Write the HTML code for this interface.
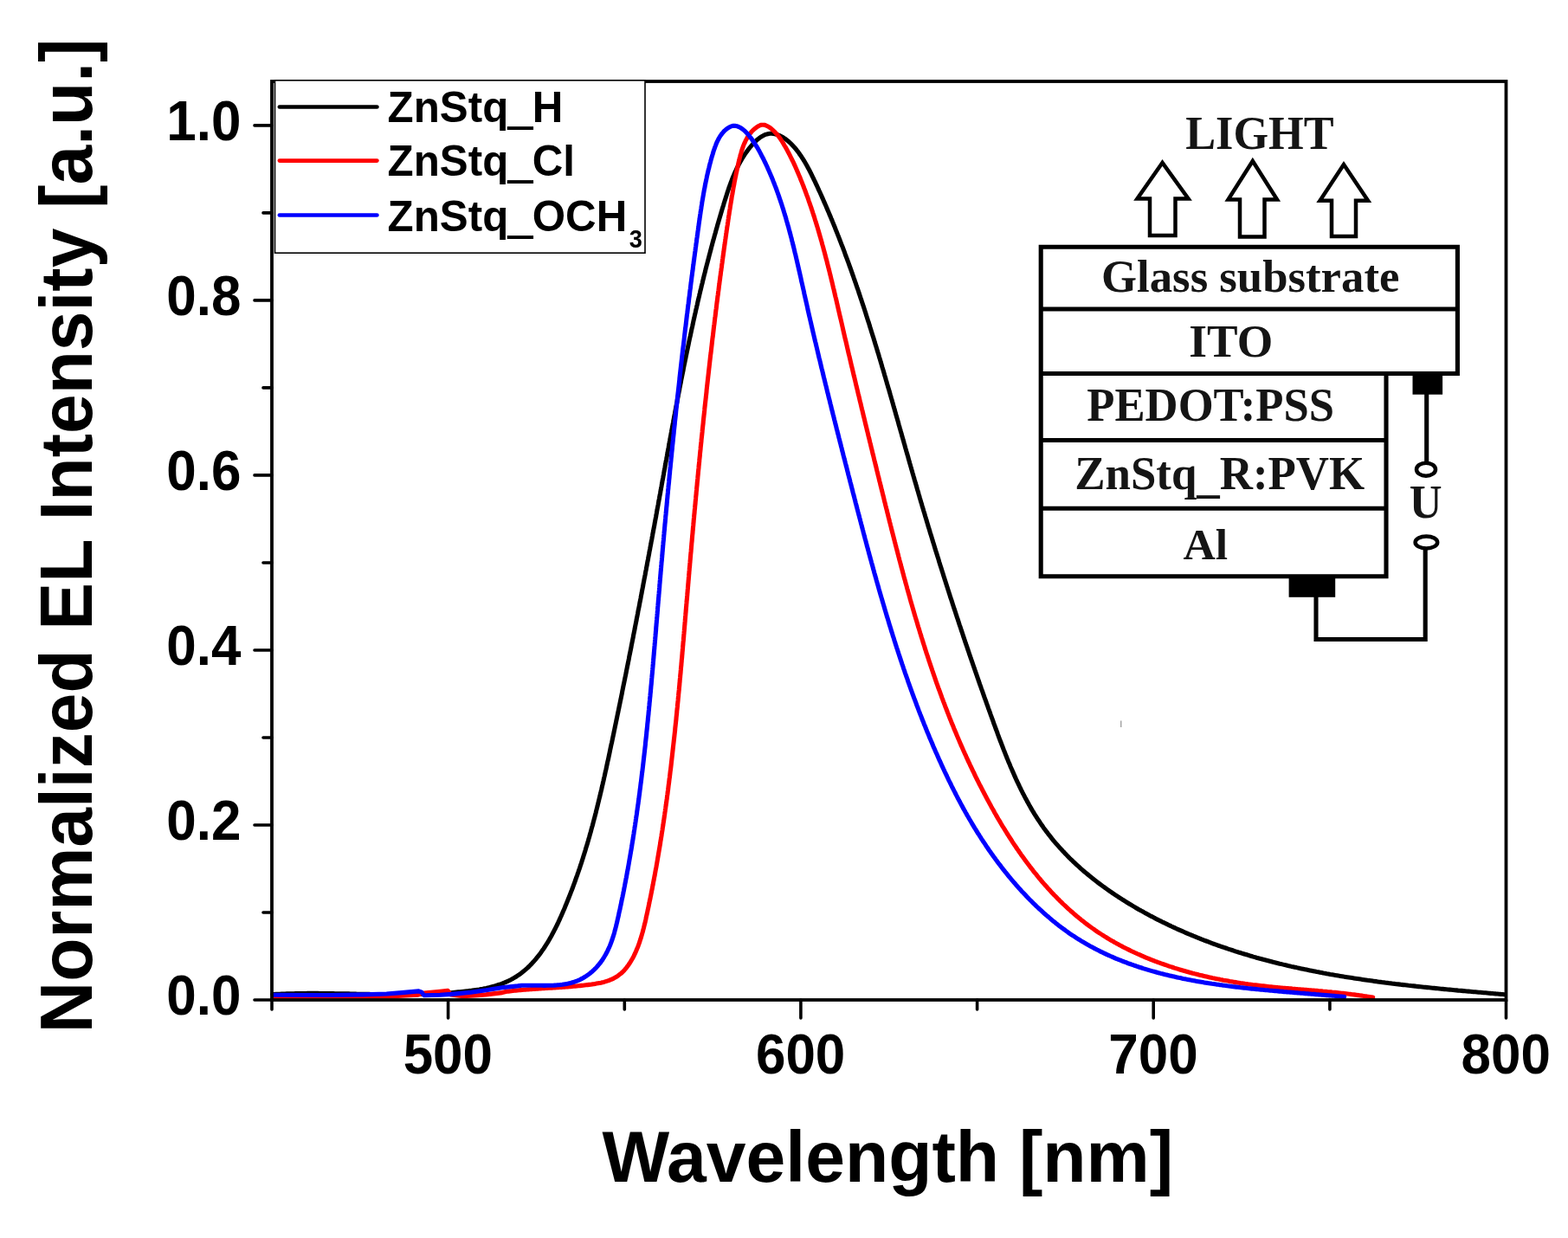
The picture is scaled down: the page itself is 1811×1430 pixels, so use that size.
<!DOCTYPE html>
<html><head><meta charset="utf-8"><style>
html,body{margin:0;padding:0;background:#fff;}
body{width:1811px;height:1430px;overflow:hidden;position:relative;}
svg{position:absolute;left:0;top:0;}
.sans{font-family:"Liberation Sans",Arial,sans-serif;font-weight:bold;fill:#000;}
.serif{font-family:"Liberation Serif","Times New Roman",serif;font-weight:bold;fill:#151515;}
</style></head><body>
<svg width="1811" height="1430" viewBox="0 0 1811 1430">
<rect width="1811" height="1430" fill="#fff"/>
<g fill="none" stroke-width="5.1" stroke-linejoin="round" stroke-linecap="round">
<path d="M314.9,1148.6 L317.0,1148.5 L319.0,1148.4 L321.0,1148.3 L323.1,1148.2 L325.1,1148.1 L327.1,1148.0 L329.2,1148.0 L331.2,1147.9 L333.2,1147.8 L335.2,1147.8 L337.2,1147.7 L339.3,1147.7 L341.3,1147.6 L343.3,1147.6 L345.3,1147.6 L347.3,1147.5 L349.3,1147.5 L351.3,1147.5 L353.3,1147.5 L355.3,1147.4 L357.3,1147.4 L359.3,1147.4 L361.3,1147.4 L363.3,1147.4 L365.2,1147.4 L367.2,1147.4 L369.2,1147.5 L371.2,1147.5 L373.2,1147.5 L375.2,1147.5 L377.1,1147.5 L379.1,1147.5 L381.1,1147.6 L383.1,1147.6 L385.0,1147.6 L387.0,1147.7 L389.0,1147.7 L391.0,1147.7 L392.9,1147.8 L394.9,1147.8 L396.9,1147.8 L398.8,1147.9 L400.8,1147.9 L402.8,1147.9 L404.7,1148.0 L406.7,1148.0 L408.6,1148.1 L410.6,1148.1 L412.6,1148.2 L414.5,1148.2 L416.5,1148.2 L418.5,1148.3 L420.4,1148.3 L422.4,1148.4 L424.3,1148.4 L426.3,1148.4 L428.3,1148.5 L430.2,1148.5 L432.2,1148.5 L434.1,1148.6 L436.1,1148.6 L438.1,1148.6 L440.0,1148.7 L442.0,1148.7 L444.0,1148.7 L445.9,1148.7 L447.9,1148.8 L449.8,1148.8 L451.8,1148.8 L453.8,1148.8 L455.7,1148.8 L457.7,1148.8 L459.7,1148.8 L461.6,1148.8 L463.6,1148.8 L465.6,1148.8 L467.5,1148.8 L469.5,1148.8 L471.5,1148.8 L473.5,1148.7 L475.4,1148.7 L477.4,1148.7 L479.4,1148.7 L481.4,1148.6 L483.3,1148.6 L485.3,1148.5 L487.3,1148.5 L489.3,1148.4 L491.3,1148.3 L493.3,1148.3 L495.2,1148.2 L497.2,1148.1 L499.2,1148.0 L501.2,1147.9 L503.2,1147.8 L505.2,1147.7 L507.2,1147.6 L509.2,1147.5 L511.2,1147.4 L513.2,1147.3 L515.2,1147.1 L517.2,1147.0 L519.2,1146.8 L521.3,1146.7 L523.3,1146.5 L525.3,1146.3 L527.3,1146.1 L529.3,1145.9 L531.4,1145.8 L533.4,1145.5 L535.4,1145.3 L537.4,1145.1 L539.5,1144.9 L541.5,1144.6 L543.5,1144.4 L545.6,1144.1 L547.6,1143.8 L549.6,1143.5 L551.6,1143.2 L553.6,1142.9 L555.6,1142.5 L557.6,1142.2 L559.6,1141.8 L561.6,1141.4 L563.6,1140.9 L565.5,1140.5 L567.5,1140.0 L569.4,1139.5 L571.3,1139.0 L573.2,1138.4 L575.1,1137.8 L576.9,1137.2 L578.8,1136.6 L580.6,1135.9 L582.4,1135.2 L584.2,1134.4 L585.9,1133.7 L587.7,1132.8 L589.4,1132.0 L591.0,1131.1 L592.7,1130.2 L594.3,1129.2 L595.9,1128.3 L597.5,1127.2 L599.1,1126.2 L600.6,1125.1 L602.1,1124.0 L603.6,1122.8 L605.1,1121.6 L606.5,1120.4 L608.0,1119.1 L609.4,1117.9 L610.7,1116.6 L612.1,1115.2 L613.4,1113.9 L614.7,1112.5 L616.0,1111.1 L617.3,1109.6 L618.6,1108.2 L619.8,1106.7 L621.0,1105.2 L622.2,1103.6 L623.4,1102.1 L624.6,1100.5 L625.7,1098.9 L626.8,1097.3 L628.0,1095.7 L629.1,1094.0 L630.1,1092.3 L631.2,1090.6 L632.3,1088.9 L633.3,1087.2 L634.3,1085.5 L635.3,1083.7 L636.3,1082.0 L637.3,1080.2 L638.2,1078.4 L639.2,1076.6 L640.1,1074.8 L641.1,1073.0 L642.0,1071.2 L642.9,1069.3 L643.8,1067.5 L644.7,1065.6 L645.5,1063.8 L646.4,1061.9 L647.2,1060.0 L648.1,1058.1 L648.9,1056.3 L649.7,1054.4 L650.5,1052.5 L651.4,1050.6 L652.2,1048.7 L652.9,1046.8 L653.7,1044.9 L654.5,1043.0 L655.3,1041.1 L656.0,1039.2 L656.8,1037.4 L657.5,1035.5 L658.3,1033.6 L659.0,1031.7 L659.7,1029.8 L660.5,1027.9 L661.2,1026.0 L661.9,1024.1 L662.6,1022.2 L663.3,1020.3 L664.0,1018.4 L664.7,1016.5 L665.3,1014.6 L666.0,1012.7 L666.7,1010.8 L667.3,1008.9 L668.0,1007.1 L668.6,1005.2 L669.3,1003.3 L669.9,1001.4 L670.5,999.5 L671.2,997.6 L671.8,995.7 L672.4,993.8 L673.0,991.9 L673.6,990.0 L674.2,988.1 L674.8,986.2 L675.4,984.3 L676.0,982.4 L676.5,980.5 L677.1,978.6 L677.7,976.7 L678.3,974.8 L678.8,972.9 L679.4,971.0 L679.9,969.1 L680.5,967.2 L681.0,965.3 L681.5,963.4 L682.1,961.5 L682.6,959.6 L683.1,957.7 L683.6,955.8 L684.2,953.9 L684.7,952.0 L685.2,950.0 L685.7,948.1 L686.2,946.2 L686.7,944.3 L687.2,942.4 L687.7,940.5 L688.2,938.6 L688.6,936.7 L689.1,934.8 L689.6,932.9 L690.1,931.0 L690.5,929.1 L691.0,927.2 L691.5,925.2 L691.9,923.3 L692.4,921.4 L692.9,919.5 L693.3,917.6 L693.8,915.7 L694.2,913.8 L694.7,911.9 L695.1,910.0 L695.5,908.0 L696.0,906.1 L696.4,904.2 L696.9,902.3 L697.3,900.4 L697.7,898.5 L698.2,896.5 L698.6,894.6 L699.0,892.7 L699.4,890.8 L699.9,888.9 L700.3,887.0 L700.7,885.0 L701.1,883.1 L701.5,881.2 L701.9,879.3 L702.4,877.4 L702.8,875.4 L703.2,873.5 L703.6,871.6 L704.0,869.7 L704.4,867.7 L704.8,865.8 L705.2,863.9 L705.6,862.0 L706.0,860.0 L706.5,858.1 L706.9,856.2 L707.3,854.3 L707.7,852.3 L708.1,850.4 L708.5,848.5 L708.9,846.6 L709.3,844.6 L709.7,842.7 L710.1,840.8 L710.5,838.8 L710.9,836.9 L711.3,835.0 L711.7,833.0 L712.1,831.1 L712.5,829.2 L712.9,827.2 L713.3,825.3 L713.7,823.4 L714.1,821.4 L714.5,819.5 L714.9,817.6 L715.3,815.6 L715.7,813.7 L716.1,811.7 L716.5,809.8 L716.9,807.9 L717.3,805.9 L717.7,804.0 L718.1,802.0 L718.5,800.1 L718.8,798.2 L719.2,796.2 L719.6,794.3 L720.0,792.3 L720.4,790.4 L720.8,788.5 L721.2,786.5 L721.6,784.6 L722.0,782.6 L722.4,780.7 L722.8,778.7 L723.2,776.8 L723.5,774.9 L723.9,772.9 L724.3,771.0 L724.7,769.0 L725.1,767.1 L725.5,765.1 L725.9,763.2 L726.3,761.2 L726.6,759.3 L727.0,757.3 L727.4,755.4 L727.8,753.4 L728.2,751.5 L728.6,749.5 L729.0,747.6 L729.3,745.6 L729.7,743.7 L730.1,741.7 L730.5,739.8 L730.9,737.8 L731.3,735.9 L731.6,733.9 L732.0,732.0 L732.4,730.0 L732.8,728.1 L733.2,726.1 L733.5,724.2 L733.9,722.2 L734.3,720.3 L734.7,718.3 L735.1,716.4 L735.4,714.4 L735.8,712.5 L736.2,710.5 L736.6,708.5 L736.9,706.6 L737.3,704.6 L737.7,702.7 L738.1,700.7 L738.5,698.8 L738.8,696.8 L739.2,694.9 L739.6,692.9 L740.0,690.9 L740.3,689.0 L740.7,687.0 L741.1,685.1 L741.4,683.1 L741.8,681.2 L742.2,679.2 L742.6,677.3 L742.9,675.3 L743.3,673.3 L743.7,671.4 L744.0,669.4 L744.4,667.5 L744.8,665.5 L745.2,663.5 L745.5,661.6 L745.9,659.6 L746.3,657.7 L746.6,655.7 L747.0,653.8 L747.4,651.8 L747.7,649.8 L748.1,647.9 L748.5,645.9 L748.8,644.0 L749.2,642.0 L749.6,640.0 L749.9,638.1 L750.3,636.1 L750.7,634.2 L751.0,632.2 L751.4,630.3 L751.8,628.3 L752.1,626.3 L752.5,624.4 L752.9,622.4 L753.2,620.5 L753.6,618.5 L753.9,616.5 L754.3,614.6 L754.7,612.6 L755.0,610.7 L755.4,608.7 L755.8,606.8 L756.1,604.8 L756.5,602.8 L756.8,600.9 L757.2,598.9 L757.6,597.0 L757.9,595.0 L758.3,593.0 L758.6,591.1 L759.0,589.1 L759.3,587.2 L759.7,585.2 L760.1,583.2 L760.4,581.3 L760.8,579.3 L761.1,577.4 L761.5,575.4 L761.8,573.5 L762.2,571.5 L762.6,569.5 L762.9,567.6 L763.3,565.6 L763.6,563.7 L764.0,561.7 L764.3,559.8 L764.7,557.8 L765.0,555.8 L765.4,553.9 L765.8,551.9 L766.1,550.0 L766.5,548.0 L766.8,546.1 L767.2,544.1 L767.5,542.2 L767.9,540.2 L768.2,538.2 L768.6,536.3 L768.9,534.3 L769.3,532.4 L769.7,530.4 L770.0,528.5 L770.4,526.5 L770.7,524.6 L771.1,522.6 L771.4,520.7 L771.8,518.7 L772.2,516.7 L772.5,514.8 L772.9,512.8 L773.2,510.9 L773.6,508.9 L773.9,507.0 L774.3,505.0 L774.7,503.1 L775.0,501.1 L775.4,499.2 L775.7,497.2 L776.1,495.3 L776.5,493.3 L776.8,491.4 L777.2,489.4 L777.6,487.5 L777.9,485.5 L778.3,483.6 L778.6,481.6 L779.0,479.7 L779.4,477.7 L779.7,475.8 L780.1,473.8 L780.5,471.9 L780.8,469.9 L781.2,468.0 L781.6,466.0 L782.0,464.1 L782.3,462.1 L782.7,460.2 L783.1,458.3 L783.4,456.3 L783.8,454.4 L784.2,452.4 L784.6,450.5 L784.9,448.5 L785.3,446.6 L785.7,444.6 L786.1,442.7 L786.5,440.7 L786.8,438.8 L787.2,436.9 L787.6,434.9 L788.0,433.0 L788.4,431.0 L788.8,429.1 L789.2,427.2 L789.5,425.2 L789.9,423.3 L790.3,421.3 L790.7,419.4 L791.1,417.5 L791.5,415.5 L791.9,413.6 L792.3,411.6 L792.7,409.7 L793.1,407.8 L793.5,405.8 L793.9,403.9 L794.3,402.0 L794.7,400.0 L795.1,398.1 L795.5,396.1 L795.9,394.2 L796.3,392.3 L796.7,390.3 L797.2,388.4 L797.6,386.5 L798.0,384.5 L798.4,382.6 L798.8,380.7 L799.2,378.8 L799.7,376.8 L800.1,374.9 L800.5,373.0 L800.9,371.0 L801.3,369.1 L801.8,367.2 L802.2,365.2 L802.6,363.3 L803.1,361.4 L803.5,359.5 L803.9,357.5 L804.4,355.6 L804.8,353.7 L805.3,351.8 L805.7,349.8 L806.1,347.9 L806.6,346.0 L807.0,344.1 L807.5,342.1 L807.9,340.2 L808.4,338.3 L808.8,336.4 L809.3,334.5 L809.8,332.5 L810.2,330.6 L810.7,328.7 L811.2,326.8 L811.6,324.9 L812.1,322.9 L812.6,321.0 L813.0,319.1 L813.5,317.2 L814.0,315.3 L814.5,313.4 L814.9,311.4 L815.4,309.5 L815.9,307.6 L816.4,305.7 L816.9,303.8 L817.4,301.9 L817.9,300.0 L818.4,298.1 L818.9,296.1 L819.4,294.2 L819.9,292.3 L820.4,290.4 L820.9,288.5 L821.4,286.6 L821.9,284.7 L822.4,282.8 L822.9,280.9 L823.4,279.0 L824.0,277.1 L824.5,275.2 L825.0,273.3 L825.5,271.4 L826.1,269.5 L826.6,267.6 L827.1,265.7 L827.7,263.8 L828.2,261.9 L828.7,260.0 L829.3,258.1 L829.8,256.2 L830.4,254.3 L830.9,252.4 L831.5,250.5 L832.1,248.6 L832.6,246.7 L833.2,244.8 L833.7,242.9 L834.3,241.0 L834.9,239.1 L835.5,237.2 L836.0,235.3 L836.6,233.5 L837.2,231.6 L837.8,229.7 L838.4,227.8 L839.0,225.9 L839.6,224.0 L840.2,222.1 L840.8,220.3 L841.4,218.4 L842.1,216.5 L842.7,214.7 L843.4,212.8 L844.1,210.9 L844.8,209.1 L845.5,207.2 L846.2,205.4 L847.0,203.6 L847.7,201.8 L848.5,199.9 L849.3,198.1 L850.2,196.3 L851.0,194.5 L851.9,192.7 L852.8,191.0 L853.7,189.2 L854.7,187.4 L855.7,185.7 L856.7,183.9 L857.8,182.2 L858.8,180.5 L859.9,178.8 L861.1,177.1 L862.3,175.4 L863.5,173.8 L864.7,172.1 L866.0,170.5 L867.4,168.8 L868.7,167.3 L870.1,165.7 L871.6,164.2 L873.0,162.8 L874.5,161.4 L876.1,160.2 L877.6,159.0 L879.2,157.9 L880.9,157.0 L882.5,156.1 L884.2,155.4 L885.9,154.9 L887.7,154.5 L889.4,154.3 L891.2,154.3 L893.0,154.4 L894.9,154.7 L896.7,155.2 L898.5,155.8 L900.4,156.6 L902.2,157.5 L904.0,158.5 L905.7,159.6 L907.4,160.7 L909.0,162.0 L910.6,163.3 L912.1,164.6 L913.6,166.0 L915.0,167.5 L916.4,169.0 L917.8,170.5 L919.1,172.0 L920.3,173.6 L921.6,175.2 L922.8,176.8 L923.9,178.5 L925.1,180.1 L926.2,181.8 L927.2,183.4 L928.3,185.1 L929.3,186.8 L930.3,188.5 L931.3,190.2 L932.3,192.0 L933.2,193.7 L934.2,195.5 L935.1,197.2 L936.0,199.0 L936.9,200.7 L937.7,202.5 L938.6,204.3 L939.5,206.1 L940.3,207.9 L941.2,209.7 L942.0,211.4 L942.8,213.2 L943.7,215.0 L944.5,216.8 L945.3,218.6 L946.1,220.4 L947.0,222.2 L947.8,224.0 L948.6,225.8 L949.4,227.6 L950.2,229.4 L951.0,231.3 L951.8,233.1 L952.6,234.9 L953.4,236.7 L954.2,238.5 L954.9,240.3 L955.7,242.1 L956.5,244.0 L957.3,245.8 L958.0,247.6 L958.8,249.4 L959.6,251.3 L960.3,253.1 L961.1,254.9 L961.8,256.7 L962.6,258.6 L963.3,260.4 L964.1,262.2 L964.8,264.1 L965.5,265.9 L966.3,267.8 L967.0,269.6 L967.7,271.4 L968.5,273.3 L969.2,275.1 L969.9,277.0 L970.6,278.8 L971.3,280.7 L972.0,282.5 L972.8,284.4 L973.5,286.2 L974.2,288.1 L974.9,289.9 L975.6,291.8 L976.2,293.6 L976.9,295.5 L977.6,297.3 L978.3,299.2 L979.0,301.1 L979.7,302.9 L980.4,304.8 L981.0,306.7 L981.7,308.5 L982.4,310.4 L983.0,312.2 L983.7,314.1 L984.4,316.0 L985.0,317.9 L985.7,319.7 L986.3,321.6 L987.0,323.5 L987.6,325.3 L988.3,327.2 L988.9,329.1 L989.6,331.0 L990.2,332.9 L990.9,334.7 L991.5,336.6 L992.1,338.5 L992.8,340.4 L993.4,342.3 L994.0,344.1 L994.7,346.0 L995.3,347.9 L995.9,349.8 L996.5,351.7 L997.2,353.6 L997.8,355.5 L998.4,357.3 L999.0,359.2 L999.6,361.1 L1000.2,363.0 L1000.8,364.9 L1001.4,366.8 L1002.0,368.7 L1002.6,370.6 L1003.3,372.5 L1003.9,374.4 L1004.4,376.3 L1005.0,378.2 L1005.6,380.1 L1006.2,382.0 L1006.8,383.9 L1007.4,385.8 L1008.0,387.7 L1008.6,389.6 L1009.2,391.5 L1009.8,393.4 L1010.3,395.3 L1010.9,397.2 L1011.5,399.1 L1012.1,401.0 L1012.7,402.9 L1013.2,404.8 L1013.8,406.7 L1014.4,408.6 L1015.0,410.5 L1015.5,412.4 L1016.1,414.3 L1016.7,416.2 L1017.2,418.1 L1017.8,420.1 L1018.4,422.0 L1018.9,423.9 L1019.5,425.8 L1020.1,427.7 L1020.6,429.6 L1021.2,431.5 L1021.7,433.4 L1022.3,435.3 L1022.9,437.3 L1023.4,439.2 L1024.0,441.1 L1024.5,443.0 L1025.1,444.9 L1025.6,446.8 L1026.2,448.7 L1026.8,450.6 L1027.3,452.6 L1027.9,454.5 L1028.4,456.4 L1029.0,458.3 L1029.5,460.2 L1030.1,462.1 L1030.6,464.0 L1031.2,466.0 L1031.7,467.9 L1032.2,469.8 L1032.8,471.7 L1033.3,473.6 L1033.9,475.5 L1034.4,477.5 L1035.0,479.4 L1035.5,481.3 L1036.1,483.2 L1036.6,485.1 L1037.2,487.0 L1037.7,488.9 L1038.2,490.9 L1038.8,492.8 L1039.3,494.7 L1039.9,496.6 L1040.4,498.5 L1041.0,500.4 L1041.5,502.4 L1042.0,504.3 L1042.6,506.2 L1043.1,508.1 L1043.7,510.0 L1044.2,511.9 L1044.8,513.8 L1045.3,515.8 L1045.8,517.7 L1046.4,519.6 L1046.9,521.5 L1047.5,523.4 L1048.0,525.3 L1048.6,527.2 L1049.1,529.2 L1049.6,531.1 L1050.2,533.0 L1050.7,534.9 L1051.3,536.8 L1051.8,538.7 L1052.4,540.6 L1052.9,542.5 L1053.5,544.5 L1054.0,546.4 L1054.6,548.3 L1055.1,550.2 L1055.7,552.1 L1056.2,554.0 L1056.8,555.9 L1057.3,557.8 L1057.9,559.7 L1058.4,561.6 L1059.0,563.5 L1059.5,565.4 L1060.1,567.3 L1060.7,569.3 L1061.2,571.2 L1061.8,573.1 L1062.3,575.0 L1062.9,576.9 L1063.4,578.8 L1064.0,580.7 L1064.6,582.6 L1065.1,584.5 L1065.7,586.4 L1066.3,588.3 L1066.8,590.2 L1067.4,592.1 L1068.0,594.0 L1068.5,595.9 L1069.1,597.8 L1069.7,599.7 L1070.2,601.6 L1070.8,603.5 L1071.4,605.4 L1071.9,607.3 L1072.5,609.2 L1073.1,611.1 L1073.7,613.0 L1074.2,614.8 L1074.8,616.7 L1075.4,618.6 L1076.0,620.5 L1076.6,622.4 L1077.1,624.3 L1077.7,626.2 L1078.3,628.1 L1078.9,630.0 L1079.5,631.9 L1080.0,633.8 L1080.6,635.7 L1081.2,637.6 L1081.8,639.4 L1082.4,641.3 L1083.0,643.2 L1083.6,645.1 L1084.2,647.0 L1084.7,648.9 L1085.3,650.8 L1085.9,652.7 L1086.5,654.6 L1087.1,656.4 L1087.7,658.3 L1088.3,660.2 L1088.9,662.1 L1089.5,664.0 L1090.1,665.9 L1090.7,667.8 L1091.3,669.7 L1091.9,671.5 L1092.5,673.4 L1093.1,675.3 L1093.7,677.2 L1094.3,679.1 L1094.9,681.0 L1095.5,682.8 L1096.1,684.7 L1096.7,686.6 L1097.3,688.5 L1097.9,690.4 L1098.6,692.3 L1099.2,694.1 L1099.8,696.0 L1100.4,697.9 L1101.0,699.8 L1101.6,701.7 L1102.2,703.5 L1102.9,705.4 L1103.5,707.3 L1104.1,709.2 L1104.7,711.1 L1105.3,712.9 L1106.0,714.8 L1106.6,716.7 L1107.2,718.6 L1107.8,720.5 L1108.4,722.3 L1109.1,724.2 L1109.7,726.1 L1110.3,728.0 L1111.0,729.9 L1111.6,731.7 L1112.2,733.6 L1112.8,735.5 L1113.5,737.4 L1114.1,739.3 L1114.7,741.1 L1115.4,743.0 L1116.0,744.9 L1116.7,746.8 L1117.3,748.6 L1117.9,750.5 L1118.6,752.4 L1119.2,754.3 L1119.8,756.2 L1120.5,758.0 L1121.1,759.9 L1121.8,761.8 L1122.4,763.7 L1123.1,765.5 L1123.7,767.4 L1124.4,769.3 L1125.0,771.2 L1125.7,773.0 L1126.3,774.9 L1127.0,776.8 L1127.6,778.7 L1128.3,780.5 L1128.9,782.4 L1129.6,784.3 L1130.2,786.2 L1130.9,788.1 L1131.5,789.9 L1132.2,791.8 L1132.9,793.7 L1133.5,795.6 L1134.2,797.4 L1134.9,799.3 L1135.5,801.2 L1136.2,803.1 L1136.8,804.9 L1137.5,806.8 L1138.2,808.7 L1138.9,810.6 L1139.5,812.4 L1140.2,814.3 L1140.9,816.2 L1141.5,818.1 L1142.2,819.9 L1142.9,821.8 L1143.6,823.7 L1144.2,825.6 L1144.9,827.4 L1145.6,829.3 L1146.3,831.2 L1147.0,833.1 L1147.6,835.0 L1148.3,836.8 L1149.0,838.7 L1149.7,840.6 L1150.4,842.5 L1151.1,844.3 L1151.8,846.2 L1152.4,848.1 L1153.1,849.9 L1153.8,851.8 L1154.5,853.7 L1155.2,855.6 L1156.0,857.4 L1156.7,859.3 L1157.4,861.2 L1158.1,863.0 L1158.8,864.9 L1159.5,866.7 L1160.3,868.6 L1161.0,870.4 L1161.7,872.3 L1162.5,874.1 L1163.2,876.0 L1164.0,877.8 L1164.7,879.7 L1165.5,881.5 L1166.3,883.3 L1167.0,885.2 L1167.8,887.0 L1168.6,888.8 L1169.4,890.6 L1170.2,892.4 L1171.0,894.3 L1171.8,896.1 L1172.6,897.9 L1173.4,899.7 L1174.2,901.5 L1175.1,903.3 L1175.9,905.0 L1176.8,906.8 L1177.6,908.6 L1178.5,910.4 L1179.3,912.1 L1180.2,913.9 L1181.1,915.7 L1182.0,917.4 L1182.9,919.1 L1183.8,920.9 L1184.7,922.6 L1185.7,924.3 L1186.6,926.1 L1187.6,927.8 L1188.5,929.5 L1189.5,931.2 L1190.4,932.9 L1191.4,934.6 L1192.4,936.3 L1193.4,937.9 L1194.4,939.6 L1195.5,941.3 L1196.5,942.9 L1197.6,944.6 L1198.6,946.2 L1199.7,947.8 L1200.8,949.4 L1201.9,951.1 L1203.0,952.7 L1204.1,954.3 L1205.2,955.9 L1206.3,957.4 L1207.5,959.0 L1208.7,960.6 L1209.8,962.1 L1211.0,963.7 L1212.2,965.2 L1213.4,966.7 L1214.7,968.3 L1215.9,969.8 L1217.1,971.3 L1218.4,972.8 L1219.7,974.3 L1220.9,975.7 L1222.2,977.2 L1223.5,978.7 L1224.9,980.1 L1226.2,981.6 L1227.5,983.0 L1228.9,984.4 L1230.2,985.9 L1231.6,987.3 L1233.0,988.7 L1234.3,990.1 L1235.7,991.5 L1237.1,992.8 L1238.6,994.2 L1240.0,995.6 L1241.4,996.9 L1242.9,998.3 L1244.3,999.6 L1245.8,1000.9 L1247.3,1002.3 L1248.7,1003.6 L1250.2,1004.9 L1251.7,1006.2 L1253.2,1007.5 L1254.8,1008.7 L1256.3,1010.0 L1257.8,1011.3 L1259.3,1012.5 L1260.9,1013.8 L1262.4,1015.0 L1264.0,1016.3 L1265.6,1017.5 L1267.2,1018.7 L1268.7,1019.9 L1270.3,1021.1 L1271.9,1022.3 L1273.5,1023.5 L1275.2,1024.7 L1276.8,1025.8 L1278.4,1027.0 L1280.0,1028.1 L1281.7,1029.3 L1283.3,1030.4 L1285.0,1031.6 L1286.6,1032.7 L1288.3,1033.8 L1290.0,1034.9 L1291.6,1036.0 L1293.3,1037.1 L1295.0,1038.2 L1296.7,1039.3 L1298.4,1040.3 L1300.1,1041.4 L1301.8,1042.5 L1303.5,1043.5 L1305.2,1044.6 L1307.0,1045.6 L1308.7,1046.6 L1310.4,1047.6 L1312.2,1048.7 L1313.9,1049.7 L1315.6,1050.7 L1317.4,1051.6 L1319.1,1052.6 L1320.9,1053.6 L1322.6,1054.6 L1324.4,1055.5 L1326.2,1056.5 L1327.9,1057.4 L1329.7,1058.4 L1331.5,1059.3 L1333.3,1060.2 L1335.0,1061.2 L1336.8,1062.1 L1338.6,1063.0 L1340.4,1063.9 L1342.2,1064.8 L1344.0,1065.6 L1345.8,1066.5 L1347.6,1067.4 L1349.4,1068.3 L1351.2,1069.1 L1353.0,1070.0 L1354.8,1070.8 L1356.6,1071.6 L1358.4,1072.5 L1360.2,1073.3 L1362.0,1074.1 L1363.8,1074.9 L1365.6,1075.7 L1367.5,1076.5 L1369.3,1077.3 L1371.1,1078.1 L1372.9,1078.9 L1374.8,1079.6 L1376.6,1080.4 L1378.4,1081.2 L1380.3,1081.9 L1382.1,1082.7 L1383.9,1083.4 L1385.8,1084.1 L1387.6,1084.9 L1389.5,1085.6 L1391.3,1086.3 L1393.2,1087.0 L1395.0,1087.7 L1396.9,1088.4 L1398.7,1089.1 L1400.6,1089.8 L1402.4,1090.5 L1404.3,1091.1 L1406.2,1091.8 L1408.0,1092.5 L1409.9,1093.1 L1411.7,1093.8 L1413.6,1094.4 L1415.5,1095.0 L1417.4,1095.7 L1419.2,1096.3 L1421.1,1096.9 L1423.0,1097.5 L1424.9,1098.2 L1426.7,1098.8 L1428.6,1099.4 L1430.5,1100.0 L1432.4,1100.5 L1434.3,1101.1 L1436.2,1101.7 L1438.1,1102.3 L1440.0,1102.8 L1441.9,1103.4 L1443.7,1104.0 L1445.6,1104.5 L1447.5,1105.1 L1449.4,1105.6 L1451.3,1106.2 L1453.2,1106.7 L1455.1,1107.2 L1457.1,1107.7 L1459.0,1108.3 L1460.9,1108.8 L1462.8,1109.3 L1464.7,1109.8 L1466.6,1110.3 L1468.5,1110.8 L1470.4,1111.3 L1472.3,1111.7 L1474.3,1112.2 L1476.2,1112.7 L1478.1,1113.2 L1480.0,1113.6 L1482.0,1114.1 L1483.9,1114.6 L1485.8,1115.0 L1487.7,1115.5 L1489.7,1115.9 L1491.6,1116.4 L1493.5,1116.8 L1495.4,1117.2 L1497.4,1117.6 L1499.3,1118.1 L1501.2,1118.5 L1503.2,1118.9 L1505.1,1119.3 L1507.1,1119.7 L1509.0,1120.1 L1510.9,1120.5 L1512.9,1120.9 L1514.8,1121.3 L1516.8,1121.7 L1518.7,1122.1 L1520.7,1122.5 L1522.6,1122.8 L1524.5,1123.2 L1526.5,1123.6 L1528.4,1124.0 L1530.4,1124.3 L1532.3,1124.7 L1534.3,1125.0 L1536.3,1125.4 L1538.2,1125.7 L1540.2,1126.1 L1542.1,1126.4 L1544.1,1126.7 L1546.0,1127.1 L1548.0,1127.4 L1549.9,1127.7 L1551.9,1128.1 L1553.9,1128.4 L1555.8,1128.7 L1557.8,1129.0 L1559.7,1129.3 L1561.7,1129.6 L1563.7,1129.9 L1565.6,1130.2 L1567.6,1130.5 L1569.6,1130.8 L1571.5,1131.1 L1573.5,1131.4 L1575.5,1131.7 L1577.4,1132.0 L1579.4,1132.3 L1581.4,1132.5 L1583.3,1132.8 L1585.3,1133.1 L1587.3,1133.4 L1589.3,1133.6 L1591.2,1133.9 L1593.2,1134.2 L1595.2,1134.4 L1597.1,1134.7 L1599.1,1134.9 L1601.1,1135.2 L1603.1,1135.4 L1605.0,1135.7 L1607.0,1135.9 L1609.0,1136.2 L1611.0,1136.4 L1612.9,1136.7 L1614.9,1136.9 L1616.9,1137.1 L1618.9,1137.4 L1620.8,1137.6 L1622.8,1137.8 L1624.8,1138.0 L1626.8,1138.3 L1628.8,1138.5 L1630.7,1138.7 L1632.7,1138.9 L1634.7,1139.1 L1636.7,1139.4 L1638.6,1139.6 L1640.6,1139.8 L1642.6,1140.0 L1644.6,1140.2 L1646.6,1140.4 L1648.5,1140.6 L1650.5,1140.8 L1652.5,1141.0 L1654.5,1141.2 L1656.5,1141.4 L1658.4,1141.6 L1660.4,1141.8 L1662.4,1142.0 L1664.4,1142.2 L1666.4,1142.4 L1668.3,1142.6 L1670.3,1142.8 L1672.3,1143.0 L1674.3,1143.1 L1676.2,1143.3 L1678.2,1143.5 L1680.2,1143.7 L1682.2,1143.9 L1684.2,1144.1 L1686.1,1144.2 L1688.1,1144.4 L1690.1,1144.6 L1692.1,1144.8 L1694.0,1145.0 L1696.0,1145.1 L1698.0,1145.3 L1700.0,1145.5 L1701.9,1145.7 L1703.9,1145.8 L1705.9,1146.0 L1707.9,1146.2 L1709.8,1146.3 L1711.8,1146.5 L1713.8,1146.7 L1715.8,1146.8 L1717.7,1147.0 L1719.7,1147.2 L1721.7,1147.4 L1723.7,1147.5 L1725.6,1147.7 L1727.6,1147.9 L1729.6,1148.0 L1731.5,1148.2 L1733.5,1148.4 L1735.5,1148.5 L1737.4,1148.7" stroke="#000"/>
<path d="M315.5,1151.2 L380.0,1151.0 L428.8,1151.0 L455.3,1150.6 L481.8,1149.3 L489.8,1147.1 L508.3,1145.3 L517.2,1144.4 L520.7,1148.9 L534.8,1150.6 L548.0,1150.0 L561.3,1148.9 L580.0,1146.6 L585.3,1145.3 L587.0,1145.1 L588.8,1144.9 L590.6,1144.7 L592.3,1144.5 L594.1,1144.3 L595.8,1144.1 L597.6,1144.0 L599.4,1143.8 L601.2,1143.6 L603.0,1143.5 L604.8,1143.3 L606.6,1143.2 L608.4,1143.0 L610.2,1142.9 L612.0,1142.8 L613.8,1142.6 L615.6,1142.5 L617.4,1142.4 L619.2,1142.2 L621.0,1142.1 L622.8,1142.0 L624.6,1141.9 L626.4,1141.8 L628.3,1141.7 L630.1,1141.5 L631.9,1141.4 L633.7,1141.3 L635.5,1141.2 L637.4,1141.1 L639.2,1141.0 L641.0,1140.9 L642.8,1140.7 L644.6,1140.6 L646.4,1140.5 L648.3,1140.4 L650.1,1140.3 L651.9,1140.1 L653.7,1140.0 L655.5,1139.9 L657.3,1139.7 L659.1,1139.6 L660.9,1139.4 L662.7,1139.3 L664.5,1139.1 L666.3,1139.0 L668.0,1138.8 L669.8,1138.6 L671.6,1138.4 L673.4,1138.2 L675.1,1138.0 L676.9,1137.8 L678.6,1137.6 L680.4,1137.4 L682.1,1137.2 L683.9,1136.9 L685.6,1136.7 L687.3,1136.4 L689.0,1136.1 L690.7,1135.8 L692.4,1135.5 L694.1,1135.2 L695.7,1134.8 L697.4,1134.4 L699.0,1133.9 L700.6,1133.4 L702.2,1132.9 L703.7,1132.3 L705.2,1131.7 L706.7,1131.1 L708.2,1130.4 L709.7,1129.6 L711.1,1128.8 L712.5,1128.0 L713.8,1127.1 L715.1,1126.1 L716.4,1125.1 L717.7,1124.0 L718.9,1122.9 L720.1,1121.7 L721.3,1120.4 L722.4,1119.1 L723.5,1117.8 L724.5,1116.4 L725.6,1115.0 L726.6,1113.6 L727.5,1112.1 L728.5,1110.6 L729.4,1109.0 L730.3,1107.5 L731.2,1105.9 L732.0,1104.3 L732.8,1102.6 L733.6,1101.0 L734.3,1099.4 L735.0,1097.7 L735.7,1096.0 L736.4,1094.4 L737.1,1092.7 L737.7,1091.0 L738.3,1089.3 L738.9,1087.6 L739.4,1085.9 L740.0,1084.2 L740.5,1082.5 L741.0,1080.8 L741.5,1079.1 L742.0,1077.4 L742.5,1075.7 L742.9,1073.9 L743.4,1072.2 L743.8,1070.5 L744.2,1068.7 L744.7,1067.0 L745.1,1065.3 L745.5,1063.5 L745.9,1061.8 L746.2,1060.1 L746.6,1058.3 L747.0,1056.6 L747.4,1054.8 L747.8,1053.1 L748.1,1051.3 L748.5,1049.6 L748.9,1047.9 L749.3,1046.1 L749.6,1044.4 L750.0,1042.6 L750.3,1040.9 L750.7,1039.1 L751.1,1037.4 L751.4,1035.6 L751.8,1033.9 L752.1,1032.1 L752.5,1030.4 L752.8,1028.6 L753.2,1026.9 L753.5,1025.1 L753.8,1023.4 L754.2,1021.6 L754.5,1019.9 L754.8,1018.1 L755.2,1016.4 L755.5,1014.6 L755.8,1012.9 L756.2,1011.1 L756.5,1009.4 L756.8,1007.6 L757.1,1005.8 L757.4,1004.1 L757.8,1002.3 L758.1,1000.6 L758.4,998.8 L758.7,997.1 L759.0,995.3 L759.3,993.6 L759.6,991.8 L759.9,990.0 L760.2,988.3 L760.5,986.5 L760.8,984.8 L761.1,983.0 L761.4,981.2 L761.7,979.5 L762.0,977.7 L762.3,976.0 L762.6,974.2 L762.8,972.4 L763.1,970.7 L763.4,968.9 L763.7,967.1 L764.0,965.4 L764.2,963.6 L764.5,961.8 L764.8,960.1 L765.1,958.3 L765.3,956.6 L765.6,954.8 L765.9,953.0 L766.1,951.3 L766.4,949.5 L766.7,947.7 L766.9,946.0 L767.2,944.2 L767.4,942.4 L767.7,940.6 L767.9,938.9 L768.2,937.1 L768.4,935.3 L768.7,933.6 L768.9,931.8 L769.2,930.0 L769.4,928.3 L769.7,926.5 L769.9,924.7 L770.2,922.9 L770.4,921.2 L770.6,919.4 L770.9,917.6 L771.1,915.9 L771.3,914.1 L771.6,912.3 L771.8,910.5 L772.0,908.8 L772.2,907.0 L772.5,905.2 L772.7,903.4 L772.9,901.7 L773.1,899.9 L773.4,898.1 L773.6,896.3 L773.8,894.6 L774.0,892.8 L774.2,891.0 L774.5,889.2 L774.7,887.4 L774.9,885.7 L775.1,883.9 L775.3,882.1 L775.5,880.3 L775.7,878.6 L775.9,876.8 L776.1,875.0 L776.3,873.2 L776.5,871.4 L776.7,869.7 L776.9,867.9 L777.1,866.1 L777.3,864.3 L777.5,862.5 L777.7,860.8 L777.9,859.0 L778.1,857.2 L778.3,855.4 L778.5,853.6 L778.7,851.9 L778.9,850.1 L779.1,848.3 L779.3,846.5 L779.5,844.7 L779.7,842.9 L779.8,841.2 L780.0,839.4 L780.2,837.6 L780.4,835.8 L780.6,834.0 L780.8,832.2 L781.0,830.4 L781.1,828.7 L781.3,826.9 L781.5,825.1 L781.7,823.3 L781.8,821.5 L782.0,819.7 L782.2,817.9 L782.4,816.2 L782.5,814.4 L782.7,812.6 L782.9,810.8 L783.1,809.0 L783.2,807.2 L783.4,805.4 L783.6,803.7 L783.7,801.9 L783.9,800.1 L784.1,798.3 L784.3,796.5 L784.4,794.7 L784.6,792.9 L784.8,791.1 L784.9,789.3 L785.1,787.6 L785.2,785.8 L785.4,784.0 L785.6,782.2 L785.7,780.4 L785.9,778.6 L786.1,776.8 L786.2,775.0 L786.4,773.2 L786.5,771.5 L786.7,769.7 L786.9,767.9 L787.0,766.1 L787.2,764.3 L787.3,762.5 L787.5,760.7 L787.7,758.9 L787.8,757.1 L788.0,755.3 L788.1,753.5 L788.3,751.8 L788.4,750.0 L788.6,748.2 L788.7,746.4 L788.9,744.6 L789.0,742.8 L789.2,741.0 L789.4,739.2 L789.5,737.4 L789.7,735.6 L789.8,733.8 L790.0,732.0 L790.1,730.2 L790.3,728.5 L790.4,726.7 L790.6,724.9 L790.7,723.1 L790.9,721.3 L791.0,719.5 L791.2,717.7 L791.3,715.9 L791.5,714.1 L791.6,712.3 L791.8,710.5 L791.9,708.7 L792.1,706.9 L792.2,705.1 L792.4,703.3 L792.5,701.6 L792.7,699.8 L792.8,698.0 L793.0,696.2 L793.1,694.4 L793.3,692.6 L793.5,690.8 L793.6,689.0 L793.8,687.2 L793.9,685.4 L794.1,683.6 L794.2,681.8 L794.4,680.0 L794.5,678.2 L794.7,676.4 L794.8,674.6 L795.0,672.9 L795.1,671.1 L795.3,669.3 L795.4,667.5 L795.6,665.7 L795.7,663.9 L795.9,662.1 L796.0,660.3 L796.2,658.5 L796.3,656.7 L796.5,654.9 L796.7,653.1 L796.8,651.3 L797.0,649.5 L797.1,647.7 L797.3,645.9 L797.4,644.1 L797.6,642.4 L797.7,640.6 L797.9,638.8 L798.1,637.0 L798.2,635.2 L798.4,633.4 L798.5,631.6 L798.7,629.8 L798.8,628.0 L799.0,626.2 L799.2,624.4 L799.3,622.6 L799.5,620.8 L799.6,619.0 L799.8,617.2 L800.0,615.4 L800.1,613.6 L800.3,611.9 L800.4,610.1 L800.6,608.3 L800.8,606.5 L800.9,604.7 L801.1,602.9 L801.2,601.1 L801.4,599.3 L801.6,597.5 L801.7,595.7 L801.9,593.9 L802.1,592.1 L802.2,590.3 L802.4,588.5 L802.6,586.7 L802.7,585.0 L802.9,583.2 L803.1,581.4 L803.2,579.6 L803.4,577.8 L803.6,576.0 L803.7,574.2 L803.9,572.4 L804.1,570.6 L804.2,568.8 L804.4,567.0 L804.6,565.2 L804.7,563.4 L804.9,561.7 L805.1,559.9 L805.2,558.1 L805.4,556.3 L805.6,554.5 L805.8,552.7 L805.9,550.9 L806.1,549.1 L806.3,547.3 L806.4,545.5 L806.6,543.7 L806.8,541.9 L807.0,540.2 L807.1,538.4 L807.3,536.6 L807.5,534.8 L807.7,533.0 L807.8,531.2 L808.0,529.4 L808.2,527.6 L808.4,525.8 L808.5,524.0 L808.7,522.3 L808.9,520.5 L809.1,518.7 L809.2,516.9 L809.4,515.1 L809.6,513.3 L809.8,511.5 L810.0,509.7 L810.1,507.9 L810.3,506.2 L810.5,504.4 L810.7,502.6 L810.9,500.8 L811.1,499.0 L811.2,497.2 L811.4,495.4 L811.6,493.6 L811.8,491.8 L812.0,490.1 L812.2,488.3 L812.3,486.5 L812.5,484.7 L812.7,482.9 L812.9,481.1 L813.1,479.3 L813.3,477.6 L813.5,475.8 L813.7,474.0 L813.8,472.2 L814.0,470.4 L814.2,468.6 L814.4,466.8 L814.6,465.1 L814.8,463.3 L815.0,461.5 L815.2,459.7 L815.4,457.9 L815.6,456.1 L815.8,454.4 L816.0,452.6 L816.1,450.8 L816.3,449.0 L816.5,447.2 L816.7,445.4 L816.9,443.7 L817.1,441.9 L817.3,440.1 L817.5,438.3 L817.7,436.5 L817.9,434.7 L818.1,433.0 L818.3,431.2 L818.5,429.4 L818.7,427.6 L818.9,425.8 L819.1,424.1 L819.3,422.3 L819.5,420.5 L819.7,418.7 L819.9,416.9 L820.1,415.2 L820.3,413.4 L820.5,411.6 L820.7,409.8 L821.0,408.0 L821.2,406.3 L821.4,404.5 L821.6,402.7 L821.8,400.9 L822.0,399.2 L822.2,397.4 L822.4,395.6 L822.6,393.8 L822.8,392.0 L823.0,390.3 L823.3,388.5 L823.5,386.7 L823.7,384.9 L823.9,383.2 L824.1,381.4 L824.3,379.6 L824.5,377.8 L824.7,376.1 L825.0,374.3 L825.2,372.5 L825.4,370.8 L825.6,369.0 L825.8,367.2 L826.1,365.4 L826.3,363.7 L826.5,361.9 L826.7,360.1 L826.9,358.3 L827.2,356.6 L827.4,354.8 L827.6,353.0 L827.8,351.3 L828.0,349.5 L828.3,347.7 L828.5,346.0 L828.7,344.2 L828.9,342.4 L829.2,340.6 L829.4,338.9 L829.6,337.1 L829.9,335.3 L830.1,333.6 L830.3,331.8 L830.5,330.0 L830.8,328.3 L831.0,326.5 L831.2,324.7 L831.5,323.0 L831.7,321.2 L831.9,319.4 L832.2,317.7 L832.4,315.9 L832.6,314.2 L832.9,312.4 L833.1,310.6 L833.4,308.9 L833.6,307.1 L833.8,305.3 L834.1,303.6 L834.3,301.8 L834.5,300.1 L834.8,298.3 L835.0,296.5 L835.3,294.8 L835.5,293.0 L835.8,291.2 L836.0,289.5 L836.2,287.7 L836.5,286.0 L836.7,284.2 L837.0,282.5 L837.2,280.7 L837.5,278.9 L837.7,277.2 L838.0,275.4 L838.2,273.7 L838.5,271.9 L838.7,270.2 L839.0,268.4 L839.2,266.6 L839.5,264.9 L839.7,263.1 L840.0,261.4 L840.3,259.6 L840.5,257.9 L840.8,256.1 L841.0,254.4 L841.3,252.6 L841.5,250.9 L841.8,249.1 L842.1,247.4 L842.3,245.6 L842.6,243.8 L842.9,242.1 L843.2,240.3 L843.4,238.6 L843.7,236.8 L844.0,235.1 L844.3,233.3 L844.6,231.5 L844.9,229.8 L845.1,228.0 L845.4,226.2 L845.8,224.5 L846.1,222.7 L846.4,220.9 L846.7,219.1 L847.0,217.4 L847.3,215.6 L847.7,213.8 L848.0,212.0 L848.3,210.2 L848.7,208.4 L849.0,206.6 L849.4,204.8 L849.8,203.0 L850.1,201.2 L850.5,199.4 L850.9,197.6 L851.3,195.8 L851.7,193.9 L852.1,192.1 L852.5,190.3 L852.9,188.4 L853.3,186.6 L853.8,184.8 L854.2,182.9 L854.7,181.1 L855.1,179.3 L855.7,177.5 L856.2,175.7 L856.7,173.9 L857.3,172.1 L857.9,170.4 L858.5,168.6 L859.2,166.9 L859.9,165.3 L860.7,163.6 L861.4,162.0 L862.3,160.5 L863.1,159.0 L864.1,157.5 L865.0,156.0 L866.0,154.6 L867.1,153.3 L868.2,152.0 L869.4,150.8 L870.6,149.6 L871.9,148.5 L873.3,147.4 L874.8,146.4 L876.3,145.5 L877.8,144.8 L879.4,144.3 L881.0,144.2 L882.7,144.3 L884.3,144.8 L885.9,145.5 L887.5,146.4 L889.0,147.3 L890.5,148.4 L891.9,149.6 L893.2,150.8 L894.5,152.0 L895.8,153.4 L897.0,154.7 L898.2,156.2 L899.3,157.6 L900.4,159.1 L901.5,160.6 L902.5,162.2 L903.5,163.7 L904.5,165.3 L905.4,166.9 L906.3,168.5 L907.3,170.1 L908.2,171.7 L909.1,173.3 L909.9,174.9 L910.8,176.5 L911.6,178.1 L912.4,179.7 L913.2,181.3 L914.0,182.9 L914.8,184.5 L915.6,186.1 L916.4,187.7 L917.1,189.4 L917.9,191.0 L918.6,192.6 L919.3,194.2 L920.0,195.8 L920.7,197.5 L921.4,199.1 L922.1,200.7 L922.8,202.4 L923.5,204.0 L924.2,205.6 L924.8,207.3 L925.5,208.9 L926.2,210.6 L926.8,212.2 L927.5,213.9 L928.1,215.5 L928.7,217.2 L929.4,218.9 L930.0,220.5 L930.6,222.2 L931.2,223.9 L931.8,225.5 L932.5,227.2 L933.1,228.9 L933.7,230.6 L934.2,232.3 L934.8,233.9 L935.4,235.6 L936.0,237.3 L936.6,239.0 L937.1,240.7 L937.7,242.4 L938.3,244.1 L938.8,245.8 L939.4,247.5 L939.9,249.2 L940.5,250.9 L941.0,252.6 L941.5,254.3 L942.1,256.0 L942.6,257.7 L943.1,259.4 L943.7,261.2 L944.2,262.9 L944.7,264.6 L945.2,266.3 L945.7,268.0 L946.2,269.8 L946.7,271.5 L947.2,273.2 L947.7,274.9 L948.2,276.7 L948.7,278.4 L949.2,280.1 L949.6,281.9 L950.1,283.6 L950.6,285.3 L951.1,287.1 L951.5,288.8 L952.0,290.5 L952.5,292.3 L952.9,294.0 L953.4,295.8 L953.8,297.5 L954.3,299.3 L954.8,301.0 L955.2,302.7 L955.6,304.5 L956.1,306.2 L956.5,308.0 L957.0,309.7 L957.4,311.5 L957.9,313.2 L958.3,315.0 L958.7,316.8 L959.2,318.5 L959.6,320.3 L960.0,322.0 L960.4,323.8 L960.9,325.5 L961.3,327.3 L961.7,329.0 L962.1,330.8 L962.5,332.6 L963.0,334.3 L963.4,336.1 L963.8,337.8 L964.2,339.6 L964.6,341.4 L965.0,343.1 L965.5,344.9 L965.9,346.6 L966.3,348.4 L966.7,350.2 L967.1,351.9 L967.5,353.7 L967.9,355.4 L968.3,357.2 L968.7,359.0 L969.1,360.7 L969.5,362.5 L969.9,364.2 L970.3,366.0 L970.8,367.8 L971.2,369.5 L971.6,371.3 L972.0,373.0 L972.4,374.8 L972.8,376.5 L973.2,378.3 L973.6,380.1 L974.0,381.8 L974.4,383.6 L974.8,385.3 L975.2,387.1 L975.6,388.8 L976.0,390.6 L976.4,392.3 L976.9,394.1 L977.3,395.8 L977.7,397.6 L978.1,399.3 L978.5,401.1 L978.9,402.9 L979.3,404.6 L979.7,406.4 L980.1,408.1 L980.5,409.9 L981.0,411.6 L981.4,413.3 L981.8,415.1 L982.2,416.8 L982.6,418.6 L983.0,420.3 L983.4,422.1 L983.8,423.8 L984.3,425.6 L984.7,427.3 L985.1,429.1 L985.5,430.8 L985.9,432.6 L986.3,434.3 L986.8,436.1 L987.2,437.8 L987.6,439.5 L988.0,441.3 L988.4,443.0 L988.8,444.8 L989.2,446.5 L989.7,448.3 L990.1,450.0 L990.5,451.7 L990.9,453.5 L991.3,455.2 L991.8,457.0 L992.2,458.7 L992.6,460.4 L993.0,462.2 L993.4,463.9 L993.9,465.7 L994.3,467.4 L994.7,469.2 L995.1,470.9 L995.5,472.6 L996.0,474.4 L996.4,476.1 L996.8,477.9 L997.2,479.6 L997.6,481.3 L998.1,483.1 L998.5,484.8 L998.9,486.5 L999.3,488.3 L999.7,490.0 L1000.2,491.8 L1000.6,493.5 L1001.0,495.2 L1001.4,497.0 L1001.9,498.7 L1002.3,500.5 L1002.7,502.2 L1003.1,503.9 L1003.6,505.7 L1004.0,507.4 L1004.4,509.1 L1004.8,510.9 L1005.3,512.6 L1005.7,514.4 L1006.1,516.1 L1006.5,517.8 L1007.0,519.6 L1007.4,521.3 L1007.8,523.1 L1008.2,524.8 L1008.7,526.5 L1009.1,528.3 L1009.5,530.0 L1009.9,531.7 L1010.4,533.5 L1010.8,535.2 L1011.2,537.0 L1011.7,538.7 L1012.1,540.4 L1012.5,542.2 L1012.9,543.9 L1013.4,545.7 L1013.8,547.4 L1014.2,549.1 L1014.7,550.9 L1015.1,552.6 L1015.5,554.3 L1015.9,556.1 L1016.4,557.8 L1016.8,559.6 L1017.2,561.3 L1017.7,563.1 L1018.1,564.8 L1018.5,566.5 L1019.0,568.3 L1019.4,570.0 L1019.8,571.8 L1020.3,573.5 L1020.7,575.2 L1021.1,577.0 L1021.5,578.7 L1022.0,580.5 L1022.4,582.2 L1022.8,583.9 L1023.3,585.7 L1023.7,587.4 L1024.2,589.2 L1024.6,590.9 L1025.0,592.7 L1025.5,594.4 L1025.9,596.1 L1026.3,597.9 L1026.8,599.6 L1027.2,601.4 L1027.6,603.1 L1028.1,604.8 L1028.5,606.6 L1029.0,608.3 L1029.4,610.1 L1029.8,611.8 L1030.3,613.6 L1030.7,615.3 L1031.2,617.0 L1031.6,618.8 L1032.1,620.5 L1032.5,622.3 L1033.0,624.0 L1033.4,625.7 L1033.9,627.5 L1034.3,629.2 L1034.8,631.0 L1035.2,632.7 L1035.7,634.4 L1036.1,636.2 L1036.6,637.9 L1037.0,639.7 L1037.5,641.4 L1037.9,643.1 L1038.4,644.9 L1038.8,646.6 L1039.3,648.4 L1039.8,650.1 L1040.2,651.8 L1040.7,653.6 L1041.1,655.3 L1041.6,657.0 L1042.1,658.8 L1042.5,660.5 L1043.0,662.2 L1043.5,664.0 L1043.9,665.7 L1044.4,667.5 L1044.9,669.2 L1045.4,670.9 L1045.8,672.7 L1046.3,674.4 L1046.8,676.1 L1047.3,677.9 L1047.7,679.6 L1048.2,681.3 L1048.7,683.0 L1049.2,684.8 L1049.7,686.5 L1050.2,688.2 L1050.7,690.0 L1051.1,691.7 L1051.6,693.4 L1052.1,695.2 L1052.6,696.9 L1053.1,698.6 L1053.6,700.3 L1054.1,702.1 L1054.6,703.8 L1055.1,705.5 L1055.6,707.2 L1056.1,709.0 L1056.6,710.7 L1057.1,712.4 L1057.6,714.1 L1058.2,715.9 L1058.7,717.6 L1059.2,719.3 L1059.7,721.0 L1060.2,722.7 L1060.7,724.5 L1061.3,726.2 L1061.8,727.9 L1062.3,729.6 L1062.8,731.3 L1063.4,733.0 L1063.9,734.8 L1064.4,736.5 L1065.0,738.2 L1065.5,739.9 L1066.0,741.6 L1066.6,743.3 L1067.1,745.0 L1067.7,746.7 L1068.2,748.5 L1068.7,750.2 L1069.3,751.9 L1069.8,753.6 L1070.4,755.3 L1071.0,757.0 L1071.5,758.7 L1072.1,760.4 L1072.6,762.1 L1073.2,763.8 L1073.8,765.5 L1074.3,767.2 L1074.9,768.9 L1075.5,770.6 L1076.1,772.3 L1076.6,774.0 L1077.2,775.7 L1077.8,777.4 L1078.4,779.1 L1079.0,780.8 L1079.6,782.5 L1080.1,784.2 L1080.7,785.9 L1081.3,787.6 L1081.9,789.3 L1082.5,790.9 L1083.1,792.6 L1083.7,794.3 L1084.3,796.0 L1085.0,797.7 L1085.6,799.4 L1086.2,801.1 L1086.8,802.7 L1087.4,804.4 L1088.0,806.1 L1088.7,807.8 L1089.3,809.5 L1089.9,811.1 L1090.6,812.8 L1091.2,814.5 L1091.8,816.2 L1092.5,817.8 L1093.1,819.5 L1093.8,821.2 L1094.4,822.9 L1095.1,824.5 L1095.7,826.2 L1096.4,827.9 L1097.0,829.5 L1097.7,831.2 L1098.4,832.9 L1099.0,834.5 L1099.7,836.2 L1100.4,837.8 L1101.1,839.5 L1101.7,841.2 L1102.4,842.8 L1103.1,844.5 L1103.8,846.1 L1104.5,847.8 L1105.2,849.4 L1105.9,851.1 L1106.6,852.7 L1107.3,854.4 L1108.0,856.0 L1108.7,857.7 L1109.4,859.3 L1110.1,861.0 L1110.9,862.6 L1111.6,864.2 L1112.3,865.9 L1113.0,867.5 L1113.8,869.2 L1114.5,870.8 L1115.3,872.4 L1116.0,874.1 L1116.7,875.7 L1117.5,877.3 L1118.2,879.0 L1119.0,880.6 L1119.8,882.2 L1120.5,883.8 L1121.3,885.5 L1122.1,887.1 L1122.8,888.7 L1123.6,890.3 L1124.4,891.9 L1125.2,893.5 L1125.9,895.2 L1126.7,896.8 L1127.5,898.4 L1128.3,900.0 L1129.1,901.6 L1129.9,903.2 L1130.7,904.8 L1131.5,906.4 L1132.4,908.0 L1133.2,909.6 L1134.0,911.2 L1134.8,912.8 L1135.7,914.4 L1136.5,916.0 L1137.3,917.6 L1138.2,919.2 L1139.0,920.8 L1139.9,922.4 L1140.7,924.0 L1141.6,925.6 L1142.4,927.1 L1143.3,928.7 L1144.2,930.3 L1145.0,931.9 L1145.9,933.5 L1146.8,935.0 L1147.7,936.6 L1148.5,938.2 L1149.4,939.8 L1150.3,941.3 L1151.2,942.9 L1152.1,944.4 L1153.0,946.0 L1154.0,947.6 L1154.9,949.1 L1155.8,950.7 L1156.7,952.2 L1157.6,953.8 L1158.6,955.3 L1159.5,956.8 L1160.5,958.4 L1161.4,959.9 L1162.4,961.4 L1163.3,963.0 L1164.3,964.5 L1165.2,966.0 L1166.2,967.5 L1167.2,969.0 L1168.2,970.5 L1169.1,972.1 L1170.1,973.6 L1171.1,975.1 L1172.1,976.6 L1173.1,978.0 L1174.1,979.5 L1175.1,981.0 L1176.2,982.5 L1177.2,984.0 L1178.2,985.4 L1179.2,986.9 L1180.3,988.4 L1181.3,989.8 L1182.4,991.3 L1183.4,992.7 L1184.5,994.2 L1185.5,995.6 L1186.6,997.0 L1187.7,998.5 L1188.8,999.9 L1189.8,1001.3 L1190.9,1002.7 L1192.0,1004.1 L1193.1,1005.6 L1194.2,1007.0 L1195.3,1008.3 L1196.5,1009.7 L1197.6,1011.1 L1198.7,1012.5 L1199.8,1013.9 L1201.0,1015.2 L1202.1,1016.6 L1203.3,1018.0 L1204.4,1019.3 L1205.6,1020.7 L1206.8,1022.0 L1207.9,1023.3 L1209.1,1024.6 L1210.3,1026.0 L1211.5,1027.3 L1212.7,1028.6 L1213.9,1029.9 L1215.1,1031.2 L1216.3,1032.5 L1217.5,1033.8 L1218.8,1035.0 L1220.0,1036.3 L1221.2,1037.6 L1222.5,1038.8 L1223.7,1040.1 L1225.0,1041.3 L1226.3,1042.6 L1227.5,1043.8 L1228.8,1045.0 L1230.1,1046.2 L1231.4,1047.4 L1232.7,1048.6 L1234.0,1049.8 L1235.3,1051.0 L1236.6,1052.2 L1237.9,1053.3 L1239.3,1054.5 L1240.6,1055.7 L1241.9,1056.8 L1243.3,1058.0 L1244.6,1059.1 L1246.0,1060.2 L1247.4,1061.3 L1248.7,1062.4 L1250.1,1063.5 L1251.5,1064.6 L1252.9,1065.7 L1254.3,1066.8 L1255.7,1067.8 L1257.1,1068.9 L1258.6,1070.0 L1260.0,1071.0 L1261.4,1072.0 L1262.9,1073.0 L1264.3,1074.1 L1265.8,1075.1 L1267.2,1076.1 L1268.7,1077.1 L1270.2,1078.0 L1271.7,1079.0 L1273.2,1080.0 L1274.7,1080.9 L1276.2,1081.9 L1277.7,1082.8 L1279.2,1083.7 L1280.7,1084.6 L1282.3,1085.6 L1283.8,1086.5 L1285.4,1087.3 L1286.9,1088.2 L1288.5,1089.1 L1290.0,1090.0 L1291.6,1090.8 L1293.2,1091.7 L1294.8,1092.5 L1296.3,1093.4 L1297.9,1094.2 L1299.5,1095.0 L1301.1,1095.8 L1302.8,1096.6 L1304.4,1097.4 L1306.0,1098.2 L1307.6,1099.0 L1309.2,1099.7 L1310.9,1100.5 L1312.5,1101.2 L1314.2,1102.0 L1315.8,1102.7 L1317.5,1103.4 L1319.1,1104.2 L1320.8,1104.9 L1322.4,1105.6 L1324.1,1106.3 L1325.8,1107.0 L1327.5,1107.6 L1329.1,1108.3 L1330.8,1109.0 L1332.5,1109.6 L1334.2,1110.3 L1335.9,1110.9 L1337.6,1111.6 L1339.3,1112.2 L1341.0,1112.8 L1342.7,1113.4 L1344.5,1114.0 L1346.2,1114.6 L1347.9,1115.2 L1349.6,1115.8 L1351.3,1116.4 L1353.1,1116.9 L1354.8,1117.5 L1356.5,1118.1 L1358.3,1118.6 L1360.0,1119.1 L1361.8,1119.7 L1363.5,1120.2 L1365.3,1120.7 L1367.0,1121.2 L1368.8,1121.7 L1370.5,1122.2 L1372.3,1122.7 L1374.0,1123.2 L1375.8,1123.7 L1377.6,1124.2 L1379.3,1124.6 L1381.1,1125.1 L1382.9,1125.5 L1384.6,1126.0 L1386.4,1126.4 L1388.2,1126.8 L1389.9,1127.3 L1391.7,1127.7 L1393.5,1128.1 L1395.3,1128.5 L1397.0,1128.9 L1398.8,1129.3 L1400.6,1129.7 L1402.4,1130.0 L1404.1,1130.4 L1405.9,1130.8 L1407.7,1131.1 L1409.5,1131.5 L1411.3,1131.8 L1413.0,1132.2 L1414.8,1132.5 L1416.6,1132.8 L1418.4,1133.1 L1420.2,1133.5 L1421.9,1133.8 L1423.7,1134.1 L1425.5,1134.4 L1427.3,1134.6 L1429.1,1134.9 L1430.8,1135.2 L1432.6,1135.5 L1434.4,1135.7 L1436.2,1136.0 L1437.9,1136.3 L1439.7,1136.5 L1441.5,1136.8 L1443.2,1137.0 L1445.0,1137.2 L1446.8,1137.5 L1448.5,1137.7 L1450.3,1137.9 L1452.1,1138.1 L1453.8,1138.3 L1455.6,1138.5 L1457.4,1138.7 L1459.1,1138.9 L1460.9,1139.1 L1462.7,1139.3 L1464.4,1139.5 L1466.2,1139.7 L1467.9,1139.8 L1469.7,1140.0 L1471.5,1140.2 L1473.2,1140.4 L1475.0,1140.5 L1476.7,1140.7 L1478.5,1140.9 L1480.3,1141.0 L1482.0,1141.2 L1483.8,1141.3 L1485.5,1141.5 L1487.3,1141.6 L1489.1,1141.8 L1490.8,1141.9 L1492.6,1142.1 L1494.4,1142.2 L1496.1,1142.4 L1497.9,1142.5 L1499.6,1142.7 L1501.4,1142.8 L1503.2,1143.0 L1504.9,1143.1 L1506.7,1143.3 L1508.5,1143.4 L1510.2,1143.5 L1512.0,1143.7 L1513.8,1143.8 L1515.5,1144.0 L1517.3,1144.1 L1519.1,1144.3 L1520.8,1144.4 L1522.6,1144.6 L1524.4,1144.7 L1526.2,1144.9 L1527.9,1145.1 L1529.7,1145.2 L1531.5,1145.4 L1533.3,1145.6 L1535.1,1145.7 L1536.8,1145.9 L1538.6,1146.1 L1540.4,1146.2 L1542.2,1146.4 L1544.0,1146.6 L1545.8,1146.8 L1547.6,1147.0 L1549.4,1147.2 L1551.2,1147.4 L1553.0,1147.6 L1554.8,1147.8 L1556.6,1148.0 L1558.4,1148.2 L1560.2,1148.4 L1562.0,1148.7 L1563.8,1148.9 L1565.6,1149.1 L1567.4,1149.4 L1569.2,1149.6 L1571.0,1149.9 L1572.9,1150.1 L1574.7,1150.4 L1576.5,1150.7 L1578.3,1150.9 L1580.2,1151.2 L1582.0,1151.5 L1583.8,1151.8 L1585.7,1152.1" stroke="#ff0000"/>
<path d="M315.5,1149.3 L380.0,1149.5 L420.0,1148.9 L446.5,1148.0 L464.2,1146.6 L483.6,1144.9 L487.1,1146.2 L489.8,1149.7 L508.3,1149.3 L521.6,1148.4 L543.7,1146.2 L561.3,1143.8 L580.0,1140.8 L598.0,1138.9 L602.5,1138.3 L604.3,1138.2 L606.1,1138.2 L607.9,1138.2 L609.7,1138.2 L611.5,1138.2 L613.3,1138.2 L615.1,1138.2 L616.9,1138.2 L618.8,1138.3 L620.6,1138.3 L622.4,1138.3 L624.3,1138.3 L626.1,1138.3 L627.9,1138.4 L629.7,1138.4 L631.5,1138.3 L633.4,1138.3 L635.2,1138.3 L637.0,1138.2 L638.8,1138.2 L640.6,1138.1 L642.4,1138.0 L644.2,1137.8 L645.9,1137.7 L647.7,1137.5 L649.4,1137.3 L651.2,1137.0 L652.9,1136.7 L654.7,1136.4 L656.4,1136.1 L658.1,1135.7 L659.7,1135.3 L661.4,1134.8 L663.1,1134.3 L664.7,1133.7 L666.3,1133.1 L668.0,1132.4 L669.5,1131.7 L671.1,1130.9 L672.7,1130.1 L674.2,1129.2 L675.7,1128.3 L677.2,1127.4 L678.7,1126.3 L680.1,1125.3 L681.5,1124.2 L682.9,1123.0 L684.3,1121.9 L685.6,1120.7 L686.9,1119.4 L688.1,1118.2 L689.3,1116.9 L690.5,1115.5 L691.6,1114.2 L692.7,1112.8 L693.8,1111.5 L694.8,1110.1 L695.8,1108.7 L696.7,1107.2 L697.6,1105.8 L698.5,1104.3 L699.4,1102.8 L700.2,1101.3 L701.0,1099.8 L701.8,1098.2 L702.5,1096.7 L703.2,1095.1 L703.9,1093.6 L704.6,1092.0 L705.2,1090.4 L705.8,1088.8 L706.4,1087.1 L707.0,1085.5 L707.5,1083.9 L708.1,1082.2 L708.6,1080.5 L709.1,1078.9 L709.6,1077.2 L710.0,1075.5 L710.5,1073.8 L710.9,1072.1 L711.4,1070.4 L711.8,1068.7 L712.2,1067.0 L712.6,1065.3 L713.0,1063.6 L713.4,1061.8 L713.8,1060.1 L714.2,1058.4 L714.6,1056.7 L714.9,1054.9 L715.3,1053.2 L715.7,1051.5 L716.1,1049.8 L716.4,1048.0 L716.8,1046.3 L717.2,1044.6 L717.5,1042.9 L717.9,1041.1 L718.2,1039.4 L718.6,1037.7 L719.0,1036.0 L719.3,1034.2 L719.7,1032.5 L720.0,1030.8 L720.4,1029.0 L720.7,1027.3 L721.0,1025.6 L721.4,1023.8 L721.7,1022.1 L722.0,1020.4 L722.4,1018.6 L722.7,1016.9 L723.0,1015.2 L723.4,1013.5 L723.7,1011.7 L724.0,1010.0 L724.3,1008.3 L724.6,1006.5 L725.0,1004.8 L725.3,1003.0 L725.6,1001.3 L725.9,999.6 L726.2,997.8 L726.5,996.1 L726.8,994.4 L727.1,992.6 L727.4,990.9 L727.7,989.2 L728.0,987.4 L728.3,985.7 L728.6,983.9 L728.9,982.2 L729.2,980.5 L729.5,978.7 L729.8,977.0 L730.0,975.3 L730.3,973.5 L730.6,971.8 L730.9,970.0 L731.2,968.3 L731.4,966.6 L731.7,964.8 L732.0,963.1 L732.2,961.3 L732.5,959.6 L732.8,957.8 L733.0,956.1 L733.3,954.4 L733.6,952.6 L733.8,950.9 L734.1,949.1 L734.3,947.4 L734.6,945.6 L734.8,943.9 L735.1,942.2 L735.4,940.4 L735.6,938.7 L735.8,936.9 L736.1,935.2 L736.3,933.4 L736.6,931.7 L736.8,929.9 L737.1,928.2 L737.3,926.4 L737.5,924.7 L737.8,923.0 L738.0,921.2 L738.2,919.5 L738.5,917.7 L738.7,916.0 L738.9,914.2 L739.1,912.5 L739.4,910.7 L739.6,909.0 L739.8,907.2 L740.0,905.5 L740.3,903.7 L740.5,902.0 L740.7,900.2 L740.9,898.5 L741.1,896.7 L741.3,895.0 L741.5,893.2 L741.8,891.5 L742.0,889.7 L742.2,888.0 L742.4,886.2 L742.6,884.5 L742.8,882.7 L743.0,881.0 L743.2,879.2 L743.4,877.4 L743.6,875.7 L743.8,873.9 L744.0,872.2 L744.2,870.4 L744.4,868.7 L744.6,866.9 L744.8,865.2 L745.0,863.4 L745.2,861.7 L745.4,859.9 L745.5,858.2 L745.7,856.4 L745.9,854.6 L746.1,852.9 L746.3,851.1 L746.5,849.4 L746.7,847.6 L746.8,845.9 L747.0,844.1 L747.2,842.4 L747.4,840.6 L747.6,838.8 L747.7,837.1 L747.9,835.3 L748.1,833.6 L748.3,831.8 L748.4,830.1 L748.6,828.3 L748.8,826.5 L749.0,824.8 L749.1,823.0 L749.3,821.3 L749.5,819.5 L749.6,817.7 L749.8,816.0 L750.0,814.2 L750.1,812.5 L750.3,810.7 L750.5,809.0 L750.6,807.2 L750.8,805.4 L751.0,803.7 L751.1,801.9 L751.3,800.2 L751.5,798.4 L751.6,796.6 L751.8,794.9 L751.9,793.1 L752.1,791.4 L752.3,789.6 L752.4,787.8 L752.6,786.1 L752.7,784.3 L752.9,782.5 L753.0,780.8 L753.2,779.0 L753.4,777.3 L753.5,775.5 L753.7,773.7 L753.8,772.0 L754.0,770.2 L754.1,768.5 L754.3,766.7 L754.4,764.9 L754.6,763.2 L754.7,761.4 L754.9,759.6 L755.0,757.9 L755.2,756.1 L755.3,754.4 L755.5,752.6 L755.6,750.8 L755.8,749.1 L755.9,747.3 L756.1,745.5 L756.2,743.8 L756.4,742.0 L756.5,740.2 L756.7,738.5 L756.8,736.7 L757.0,735.0 L757.1,733.2 L757.3,731.4 L757.4,729.7 L757.6,727.9 L757.7,726.1 L757.8,724.4 L758.0,722.6 L758.1,720.8 L758.3,719.1 L758.4,717.3 L758.6,715.5 L758.7,713.8 L758.9,712.0 L759.0,710.3 L759.2,708.5 L759.3,706.7 L759.5,705.0 L759.6,703.2 L759.7,701.4 L759.9,699.7 L760.0,697.9 L760.2,696.1 L760.3,694.4 L760.5,692.6 L760.6,690.8 L760.8,689.1 L760.9,687.3 L761.1,685.5 L761.2,683.8 L761.4,682.0 L761.5,680.2 L761.7,678.5 L761.8,676.7 L761.9,674.9 L762.1,673.2 L762.2,671.4 L762.4,669.7 L762.5,667.9 L762.7,666.1 L762.8,664.4 L763.0,662.6 L763.1,660.8 L763.3,659.1 L763.4,657.3 L763.6,655.5 L763.7,653.8 L763.9,652.0 L764.0,650.2 L764.2,648.5 L764.4,646.7 L764.5,644.9 L764.7,643.2 L764.8,641.4 L765.0,639.6 L765.1,637.9 L765.3,636.1 L765.4,634.3 L765.6,632.6 L765.7,630.8 L765.9,629.0 L766.0,627.3 L766.2,625.5 L766.4,623.7 L766.5,622.0 L766.7,620.2 L766.8,618.4 L767.0,616.7 L767.1,614.9 L767.3,613.1 L767.5,611.4 L767.6,609.6 L767.8,607.8 L767.9,606.1 L768.1,604.3 L768.3,602.6 L768.4,600.8 L768.6,599.0 L768.7,597.3 L768.9,595.5 L769.1,593.7 L769.2,592.0 L769.4,590.2 L769.6,588.4 L769.7,586.7 L769.9,584.9 L770.1,583.1 L770.2,581.4 L770.4,579.6 L770.5,577.8 L770.7,576.1 L770.9,574.3 L771.0,572.5 L771.2,570.8 L771.4,569.0 L771.5,567.2 L771.7,565.5 L771.9,563.7 L772.0,562.0 L772.2,560.2 L772.4,558.4 L772.6,556.7 L772.7,554.9 L772.9,553.1 L773.1,551.4 L773.2,549.6 L773.4,547.8 L773.6,546.1 L773.7,544.3 L773.9,542.5 L774.1,540.8 L774.3,539.0 L774.4,537.3 L774.6,535.5 L774.8,533.7 L775.0,532.0 L775.1,530.2 L775.3,528.4 L775.5,526.7 L775.7,524.9 L775.8,523.1 L776.0,521.4 L776.2,519.6 L776.4,517.9 L776.5,516.1 L776.7,514.3 L776.9,512.6 L777.1,510.8 L777.3,509.0 L777.4,507.3 L777.6,505.5 L777.8,503.8 L778.0,502.0 L778.2,500.2 L778.3,498.5 L778.5,496.7 L778.7,494.9 L778.9,493.2 L779.1,491.4 L779.3,489.7 L779.4,487.9 L779.6,486.1 L779.8,484.4 L780.0,482.6 L780.2,480.9 L780.4,479.1 L780.6,477.3 L780.7,475.6 L780.9,473.8 L781.1,472.0 L781.3,470.3 L781.5,468.5 L781.7,466.8 L781.9,465.0 L782.1,463.2 L782.2,461.5 L782.4,459.7 L782.6,458.0 L782.8,456.2 L783.0,454.4 L783.2,452.7 L783.4,450.9 L783.6,449.2 L783.8,447.4 L784.0,445.7 L784.2,443.9 L784.4,442.1 L784.6,440.4 L784.8,438.6 L784.9,436.9 L785.1,435.1 L785.3,433.3 L785.5,431.6 L785.7,429.8 L785.9,428.1 L786.1,426.3 L786.3,424.6 L786.5,422.8 L786.7,421.0 L786.9,419.3 L787.1,417.5 L787.3,415.8 L787.5,414.0 L787.7,412.3 L787.9,410.5 L788.1,408.8 L788.3,407.0 L788.5,405.2 L788.7,403.5 L788.9,401.7 L789.2,400.0 L789.4,398.2 L789.6,396.5 L789.8,394.7 L790.0,393.0 L790.2,391.2 L790.4,389.5 L790.6,387.7 L790.8,385.9 L791.0,384.2 L791.2,382.4 L791.4,380.7 L791.6,378.9 L791.9,377.2 L792.1,375.4 L792.3,373.7 L792.5,371.9 L792.7,370.2 L792.9,368.4 L793.1,366.7 L793.3,364.9 L793.5,363.2 L793.8,361.4 L794.0,359.7 L794.2,357.9 L794.4,356.2 L794.6,354.4 L794.8,352.7 L795.1,350.9 L795.3,349.2 L795.5,347.4 L795.7,345.7 L795.9,343.9 L796.2,342.2 L796.4,340.4 L796.6,338.7 L796.8,336.9 L797.0,335.2 L797.3,333.4 L797.5,331.7 L797.7,329.9 L797.9,328.2 L798.1,326.4 L798.4,324.7 L798.6,322.9 L798.8,321.2 L799.0,319.5 L799.3,317.7 L799.5,316.0 L799.7,314.2 L800.0,312.5 L800.2,310.7 L800.4,309.0 L800.6,307.2 L800.9,305.5 L801.1,303.8 L801.3,302.0 L801.6,300.3 L801.8,298.5 L802.0,296.8 L802.3,295.0 L802.5,293.3 L802.7,291.6 L803.0,289.8 L803.2,288.1 L803.4,286.3 L803.7,284.6 L803.9,282.8 L804.1,281.1 L804.4,279.4 L804.6,277.6 L804.8,275.9 L805.1,274.1 L805.3,272.4 L805.6,270.7 L805.8,268.9 L806.0,267.2 L806.3,265.4 L806.5,263.7 L806.8,262.0 L807.0,260.2 L807.2,258.5 L807.5,256.8 L807.7,255.0 L808.0,253.3 L808.2,251.5 L808.5,249.8 L808.7,248.1 L809.0,246.3 L809.2,244.6 L809.5,242.9 L809.8,241.1 L810.0,239.4 L810.3,237.6 L810.6,235.9 L810.8,234.2 L811.1,232.4 L811.4,230.7 L811.7,229.0 L812.0,227.2 L812.3,225.5 L812.6,223.7 L812.9,222.0 L813.2,220.3 L813.5,218.5 L813.9,216.8 L814.2,215.0 L814.5,213.3 L814.9,211.6 L815.2,209.8 L815.6,208.1 L816.0,206.3 L816.3,204.6 L816.7,202.8 L817.1,201.1 L817.5,199.3 L817.9,197.6 L818.3,195.8 L818.8,194.1 L819.2,192.3 L819.6,190.6 L820.1,188.8 L820.6,187.1 L821.0,185.3 L821.5,183.6 L822.0,181.8 L822.5,180.1 L823.1,178.3 L823.6,176.5 L824.1,174.8 L824.7,173.0 L825.3,171.3 L825.9,169.6 L826.6,167.9 L827.2,166.2 L827.9,164.5 L828.7,162.9 L829.5,161.3 L830.3,159.8 L831.2,158.3 L832.1,156.8 L833.1,155.4 L834.1,154.1 L835.2,152.8 L836.3,151.5 L837.6,150.4 L838.9,149.3 L840.2,148.3 L841.7,147.4 L843.2,146.5 L844.7,145.9 L846.3,145.4 L847.9,145.3 L849.5,145.4 L851.2,145.7 L852.7,146.3 L854.3,147.0 L855.8,147.9 L857.2,148.9 L858.7,150.0 L860.0,151.2 L861.3,152.4 L862.6,153.8 L863.9,155.2 L865.1,156.6 L866.2,158.1 L867.4,159.5 L868.5,161.0 L869.5,162.5 L870.5,164.0 L871.5,165.5 L872.5,167.0 L873.4,168.5 L874.4,170.0 L875.3,171.5 L876.1,173.0 L877.0,174.6 L877.8,176.1 L878.6,177.6 L879.4,179.2 L880.2,180.7 L881.0,182.3 L881.8,183.8 L882.6,185.4 L883.3,187.0 L884.1,188.5 L884.8,190.1 L885.6,191.7 L886.3,193.3 L887.0,194.9 L887.7,196.5 L888.4,198.1 L889.1,199.7 L889.8,201.3 L890.5,202.9 L891.2,204.5 L891.8,206.1 L892.5,207.7 L893.1,209.4 L893.8,211.0 L894.4,212.6 L895.0,214.2 L895.7,215.9 L896.3,217.5 L896.9,219.2 L897.5,220.8 L898.1,222.5 L898.7,224.1 L899.3,225.8 L899.8,227.4 L900.4,229.1 L901.0,230.8 L901.5,232.4 L902.1,234.1 L902.7,235.8 L903.2,237.4 L903.7,239.1 L904.3,240.8 L904.8,242.5 L905.3,244.2 L905.8,245.9 L906.3,247.6 L906.9,249.3 L907.4,251.0 L907.9,252.7 L908.3,254.4 L908.8,256.1 L909.3,257.8 L909.8,259.5 L910.3,261.2 L910.8,262.9 L911.2,264.6 L911.7,266.3 L912.1,268.0 L912.6,269.7 L913.1,271.5 L913.5,273.2 L914.0,274.9 L914.4,276.6 L914.8,278.4 L915.3,280.1 L915.7,281.8 L916.1,283.5 L916.6,285.3 L917.0,287.0 L917.4,288.7 L917.8,290.5 L918.2,292.2 L918.7,293.9 L919.1,295.7 L919.5,297.4 L919.9,299.2 L920.3,300.9 L920.7,302.6 L921.1,304.4 L921.5,306.1 L921.9,307.9 L922.3,309.6 L922.7,311.3 L923.1,313.1 L923.5,314.8 L923.9,316.6 L924.3,318.3 L924.7,320.1 L925.1,321.8 L925.4,323.6 L925.8,325.3 L926.2,327.0 L926.6,328.8 L927.0,330.5 L927.4,332.3 L927.8,334.0 L928.2,335.8 L928.6,337.5 L928.9,339.2 L929.3,341.0 L929.7,342.7 L930.1,344.5 L930.5,346.2 L930.9,347.9 L931.3,349.7 L931.7,351.4 L932.1,353.2 L932.5,354.9 L932.8,356.6 L933.2,358.4 L933.6,360.1 L934.0,361.8 L934.4,363.6 L934.8,365.3 L935.2,367.0 L935.6,368.8 L936.0,370.5 L936.4,372.2 L936.8,373.9 L937.2,375.7 L937.6,377.4 L938.0,379.1 L938.4,380.9 L938.8,382.6 L939.2,384.3 L939.6,386.0 L940.0,387.8 L940.4,389.5 L940.8,391.2 L941.2,392.9 L941.6,394.6 L942.1,396.4 L942.5,398.1 L942.9,399.8 L943.3,401.5 L943.7,403.3 L944.1,405.0 L944.5,406.7 L944.9,408.4 L945.3,410.1 L945.7,411.8 L946.1,413.6 L946.6,415.3 L947.0,417.0 L947.4,418.7 L947.8,420.4 L948.2,422.1 L948.6,423.9 L949.0,425.6 L949.5,427.3 L949.9,429.0 L950.3,430.7 L950.7,432.4 L951.1,434.1 L951.5,435.9 L952.0,437.6 L952.4,439.3 L952.8,441.0 L953.2,442.7 L953.6,444.4 L954.1,446.1 L954.5,447.8 L954.9,449.5 L955.3,451.3 L955.7,453.0 L956.2,454.7 L956.6,456.4 L957.0,458.1 L957.4,459.8 L957.9,461.5 L958.3,463.2 L958.7,464.9 L959.1,466.6 L959.6,468.3 L960.0,470.1 L960.4,471.8 L960.8,473.5 L961.3,475.2 L961.7,476.9 L962.1,478.6 L962.6,480.3 L963.0,482.0 L963.4,483.7 L963.8,485.4 L964.3,487.1 L964.7,488.8 L965.1,490.5 L965.6,492.2 L966.0,494.0 L966.4,495.7 L966.9,497.4 L967.3,499.1 L967.7,500.8 L968.2,502.5 L968.6,504.2 L969.0,505.9 L969.5,507.6 L969.9,509.3 L970.3,511.0 L970.8,512.7 L971.2,514.4 L971.6,516.1 L972.1,517.8 L972.5,519.6 L972.9,521.3 L973.4,523.0 L973.8,524.7 L974.2,526.4 L974.7,528.1 L975.1,529.8 L975.6,531.5 L976.0,533.2 L976.4,534.9 L976.9,536.6 L977.3,538.3 L977.8,540.0 L978.2,541.7 L978.6,543.5 L979.1,545.2 L979.5,546.9 L979.9,548.6 L980.4,550.3 L980.8,552.0 L981.3,553.7 L981.7,555.4 L982.1,557.1 L982.6,558.8 L983.0,560.5 L983.5,562.3 L983.9,564.0 L984.4,565.7 L984.8,567.4 L985.2,569.1 L985.7,570.8 L986.1,572.5 L986.6,574.2 L987.0,575.9 L987.5,577.7 L987.9,579.4 L988.3,581.1 L988.8,582.8 L989.2,584.5 L989.7,586.2 L990.1,587.9 L990.6,589.7 L991.0,591.4 L991.5,593.1 L991.9,594.8 L992.4,596.5 L992.8,598.2 L993.3,599.9 L993.7,601.6 L994.2,603.4 L994.6,605.1 L995.1,606.8 L995.5,608.5 L996.0,610.2 L996.4,611.9 L996.9,613.6 L997.3,615.4 L997.8,617.1 L998.2,618.8 L998.7,620.5 L999.1,622.2 L999.6,623.9 L1000.1,625.6 L1000.5,627.4 L1001.0,629.1 L1001.4,630.8 L1001.9,632.5 L1002.4,634.2 L1002.8,635.9 L1003.3,637.6 L1003.7,639.3 L1004.2,641.1 L1004.7,642.8 L1005.1,644.5 L1005.6,646.2 L1006.1,647.9 L1006.5,649.6 L1007.0,651.3 L1007.5,653.0 L1008.0,654.7 L1008.4,656.5 L1008.9,658.2 L1009.4,659.9 L1009.8,661.6 L1010.3,663.3 L1010.8,665.0 L1011.3,666.7 L1011.8,668.4 L1012.2,670.1 L1012.7,671.8 L1013.2,673.6 L1013.7,675.3 L1014.2,677.0 L1014.7,678.7 L1015.1,680.4 L1015.6,682.1 L1016.1,683.8 L1016.6,685.5 L1017.1,687.2 L1017.6,688.9 L1018.1,690.6 L1018.6,692.3 L1019.1,694.0 L1019.6,695.7 L1020.1,697.4 L1020.6,699.1 L1021.1,700.8 L1021.6,702.5 L1022.1,704.2 L1022.6,705.9 L1023.1,707.6 L1023.6,709.3 L1024.1,711.0 L1024.6,712.7 L1025.2,714.4 L1025.7,716.1 L1026.2,717.8 L1026.7,719.5 L1027.2,721.2 L1027.7,722.9 L1028.3,724.6 L1028.8,726.3 L1029.3,728.0 L1029.8,729.7 L1030.4,731.4 L1030.9,733.1 L1031.4,734.8 L1032.0,736.4 L1032.5,738.1 L1033.0,739.8 L1033.6,741.5 L1034.1,743.2 L1034.6,744.9 L1035.2,746.6 L1035.7,748.3 L1036.3,749.9 L1036.8,751.6 L1037.4,753.3 L1037.9,755.0 L1038.5,756.7 L1039.0,758.4 L1039.6,760.0 L1040.1,761.7 L1040.7,763.4 L1041.3,765.1 L1041.8,766.8 L1042.4,768.4 L1043.0,770.1 L1043.5,771.8 L1044.1,773.5 L1044.7,775.1 L1045.2,776.8 L1045.8,778.5 L1046.4,780.1 L1047.0,781.8 L1047.6,783.5 L1048.2,785.1 L1048.7,786.8 L1049.3,788.5 L1049.9,790.1 L1050.5,791.8 L1051.1,793.5 L1051.7,795.1 L1052.3,796.8 L1052.9,798.5 L1053.5,800.1 L1054.1,801.8 L1054.7,803.4 L1055.3,805.1 L1055.9,806.7 L1056.6,808.4 L1057.2,810.1 L1057.8,811.7 L1058.4,813.4 L1059.0,815.0 L1059.7,816.7 L1060.3,818.3 L1060.9,820.0 L1061.5,821.6 L1062.2,823.3 L1062.8,824.9 L1063.5,826.5 L1064.1,828.2 L1064.7,829.8 L1065.4,831.5 L1066.0,833.1 L1066.7,834.7 L1067.3,836.4 L1068.0,838.0 L1068.7,839.6 L1069.3,841.3 L1070.0,842.9 L1070.6,844.5 L1071.3,846.2 L1072.0,847.8 L1072.7,849.4 L1073.3,851.0 L1074.0,852.7 L1074.7,854.3 L1075.4,855.9 L1076.1,857.5 L1076.8,859.2 L1077.4,860.8 L1078.1,862.4 L1078.8,864.0 L1079.5,865.6 L1080.2,867.2 L1080.9,868.8 L1081.7,870.5 L1082.4,872.1 L1083.1,873.7 L1083.8,875.3 L1084.5,876.9 L1085.2,878.5 L1086.0,880.1 L1086.7,881.7 L1087.4,883.3 L1088.1,884.9 L1088.9,886.5 L1089.6,888.1 L1090.4,889.7 L1091.1,891.3 L1091.9,892.9 L1092.6,894.4 L1093.4,896.0 L1094.1,897.6 L1094.9,899.2 L1095.6,900.8 L1096.4,902.4 L1097.2,903.9 L1098.0,905.5 L1098.7,907.1 L1099.5,908.7 L1100.3,910.2 L1101.1,911.8 L1101.9,913.4 L1102.7,914.9 L1103.5,916.5 L1104.3,918.1 L1105.1,919.6 L1105.9,921.2 L1106.7,922.7 L1107.5,924.3 L1108.4,925.8 L1109.2,927.4 L1110.0,928.9 L1110.9,930.5 L1111.7,932.0 L1112.5,933.6 L1113.4,935.1 L1114.2,936.6 L1115.1,938.2 L1116.0,939.7 L1116.8,941.2 L1117.7,942.8 L1118.6,944.3 L1119.4,945.8 L1120.3,947.3 L1121.2,948.8 L1122.1,950.3 L1123.0,951.9 L1123.9,953.4 L1124.8,954.9 L1125.7,956.4 L1126.7,957.9 L1127.6,959.4 L1128.5,960.9 L1129.4,962.4 L1130.4,963.8 L1131.3,965.3 L1132.3,966.8 L1133.2,968.3 L1134.2,969.8 L1135.1,971.3 L1136.1,972.7 L1137.1,974.2 L1138.1,975.7 L1139.0,977.1 L1140.0,978.6 L1141.0,980.0 L1142.0,981.5 L1143.0,982.9 L1144.0,984.4 L1145.1,985.8 L1146.1,987.3 L1147.1,988.7 L1148.2,990.2 L1149.2,991.6 L1150.2,993.0 L1151.3,994.4 L1152.4,995.9 L1153.4,997.3 L1154.5,998.7 L1155.6,1000.1 L1156.6,1001.5 L1157.7,1002.9 L1158.8,1004.3 L1159.9,1005.7 L1161.0,1007.1 L1162.2,1008.5 L1163.3,1009.9 L1164.4,1011.3 L1165.5,1012.7 L1166.7,1014.0 L1167.8,1015.4 L1169.0,1016.8 L1170.1,1018.1 L1171.3,1019.5 L1172.5,1020.8 L1173.6,1022.2 L1174.8,1023.5 L1176.0,1024.9 L1177.2,1026.2 L1178.4,1027.5 L1179.6,1028.9 L1180.8,1030.2 L1182.1,1031.5 L1183.3,1032.8 L1184.5,1034.1 L1185.7,1035.4 L1187.0,1036.7 L1188.2,1038.0 L1189.5,1039.3 L1190.8,1040.5 L1192.0,1041.8 L1193.3,1043.1 L1194.6,1044.3 L1195.9,1045.6 L1197.1,1046.8 L1198.4,1048.0 L1199.7,1049.3 L1201.1,1050.5 L1202.4,1051.7 L1203.7,1052.9 L1205.0,1054.1 L1206.3,1055.3 L1207.7,1056.5 L1209.0,1057.6 L1210.4,1058.8 L1211.7,1059.9 L1213.1,1061.1 L1214.4,1062.2 L1215.8,1063.4 L1217.2,1064.5 L1218.6,1065.6 L1219.9,1066.7 L1221.3,1067.8 L1222.7,1068.9 L1224.1,1070.0 L1225.5,1071.1 L1227.0,1072.1 L1228.4,1073.2 L1229.8,1074.2 L1231.2,1075.2 L1232.7,1076.3 L1234.1,1077.3 L1235.5,1078.3 L1237.0,1079.3 L1238.5,1080.3 L1239.9,1081.2 L1241.4,1082.2 L1242.8,1083.1 L1244.3,1084.1 L1245.8,1085.0 L1247.3,1085.9 L1248.8,1086.9 L1250.3,1087.8 L1251.8,1088.6 L1253.3,1089.5 L1254.8,1090.4 L1256.3,1091.3 L1257.8,1092.1 L1259.3,1093.0 L1260.9,1093.8 L1262.4,1094.6 L1263.9,1095.4 L1265.5,1096.2 L1267.0,1097.0 L1268.6,1097.8 L1270.1,1098.6 L1271.7,1099.4 L1273.3,1100.1 L1274.8,1100.9 L1276.4,1101.6 L1278.0,1102.4 L1279.6,1103.1 L1281.2,1103.8 L1282.7,1104.5 L1284.3,1105.2 L1285.9,1105.9 L1287.5,1106.6 L1289.1,1107.3 L1290.7,1107.9 L1292.4,1108.6 L1294.0,1109.2 L1295.6,1109.9 L1297.2,1110.5 L1298.8,1111.1 L1300.5,1111.7 L1302.1,1112.4 L1303.7,1113.0 L1305.4,1113.5 L1307.0,1114.1 L1308.7,1114.7 L1310.3,1115.3 L1312.0,1115.8 L1313.6,1116.4 L1315.3,1117.0 L1317.0,1117.5 L1318.6,1118.0 L1320.3,1118.6 L1322.0,1119.1 L1323.7,1119.6 L1325.3,1120.1 L1327.0,1120.6 L1328.7,1121.1 L1330.4,1121.6 L1332.1,1122.1 L1333.8,1122.5 L1335.5,1123.0 L1337.2,1123.5 L1338.9,1123.9 L1340.6,1124.4 L1342.3,1124.8 L1344.0,1125.2 L1345.7,1125.7 L1347.4,1126.1 L1349.1,1126.5 L1350.8,1126.9 L1352.6,1127.3 L1354.3,1127.7 L1356.0,1128.1 L1357.7,1128.5 L1359.5,1128.9 L1361.2,1129.3 L1362.9,1129.6 L1364.7,1130.0 L1366.4,1130.4 L1368.1,1130.7 L1369.9,1131.1 L1371.6,1131.4 L1373.4,1131.7 L1375.1,1132.1 L1376.9,1132.4 L1378.6,1132.7 L1380.4,1133.1 L1382.1,1133.4 L1383.9,1133.7 L1385.6,1134.0 L1387.4,1134.3 L1389.1,1134.6 L1390.9,1134.9 L1392.6,1135.2 L1394.4,1135.4 L1396.2,1135.7 L1397.9,1136.0 L1399.7,1136.3 L1401.5,1136.5 L1403.2,1136.8 L1405.0,1137.1 L1406.8,1137.3 L1408.5,1137.6 L1410.3,1137.8 L1412.1,1138.1 L1413.9,1138.3 L1415.6,1138.5 L1417.4,1138.8 L1419.2,1139.0 L1420.9,1139.2 L1422.7,1139.4 L1424.5,1139.7 L1426.3,1139.9 L1428.1,1140.1 L1429.8,1140.3 L1431.6,1140.5 L1433.4,1140.7 L1435.2,1140.9 L1436.9,1141.1 L1438.7,1141.3 L1440.5,1141.5 L1442.3,1141.7 L1444.1,1141.9 L1445.8,1142.1 L1447.6,1142.3 L1449.4,1142.4 L1451.2,1142.6 L1452.9,1142.8 L1454.7,1143.0 L1456.5,1143.2 L1458.3,1143.3 L1460.1,1143.5 L1461.8,1143.7 L1463.6,1143.8 L1465.4,1144.0 L1467.2,1144.2 L1468.9,1144.3 L1470.7,1144.5 L1472.5,1144.6 L1474.3,1144.8 L1476.0,1144.9 L1477.8,1145.1 L1479.6,1145.3 L1481.3,1145.4 L1483.1,1145.6 L1484.9,1145.7 L1486.6,1145.9 L1488.4,1146.0 L1490.2,1146.1 L1491.9,1146.3 L1493.7,1146.4 L1495.5,1146.6 L1497.2,1146.7 L1499.0,1146.9 L1500.7,1147.0 L1502.5,1147.2 L1504.3,1147.3 L1506.0,1147.4 L1507.8,1147.6 L1509.5,1147.7 L1511.3,1147.9 L1513.0,1148.0 L1514.8,1148.2 L1516.5,1148.3 L1518.2,1148.4 L1520.0,1148.6 L1521.7,1148.7 L1523.5,1148.9 L1525.2,1149.0 L1526.9,1149.2 L1528.7,1149.3 L1530.4,1149.5 L1532.1,1149.6 L1533.8,1149.7 L1535.6,1149.9 L1537.3,1150.0 L1539.0,1150.2 L1540.7,1150.3 L1542.4,1150.5 L1544.1,1150.7 L1545.9,1150.8 L1547.6,1151.0 L1549.3,1151.1 L1551.0,1151.3 L1552.7,1151.4" stroke="#0000ff"/>
</g>
<rect x="314.0" y="94" width="1425.5" height="1061.0" fill="none" stroke="#000" stroke-width="3.8"/>
<g stroke="#000" stroke-width="3.6" stroke-linecap="round">
<line x1="294.0" y1="1155.0" x2="314.0" y2="1155.0"/><line x1="304.0" y1="1054.0" x2="314.0" y2="1054.0"/><line x1="294.0" y1="953.0" x2="314.0" y2="953.0"/><line x1="304.0" y1="852.0" x2="314.0" y2="852.0"/><line x1="294.0" y1="751.0" x2="314.0" y2="751.0"/><line x1="304.0" y1="650.0" x2="314.0" y2="650.0"/><line x1="294.0" y1="548.9" x2="314.0" y2="548.9"/><line x1="304.0" y1="447.9" x2="314.0" y2="447.9"/><line x1="294.0" y1="346.9" x2="314.0" y2="346.9"/><line x1="304.0" y1="245.9" x2="314.0" y2="245.9"/><line x1="294.0" y1="144.9" x2="314.0" y2="144.9"/><line x1="314.0" y1="1155.0" x2="314.0" y2="1166.0"/><line x1="517.6" y1="1155.0" x2="517.6" y2="1176.0"/><line x1="721.3" y1="1155.0" x2="721.3" y2="1166.0"/><line x1="924.9" y1="1155.0" x2="924.9" y2="1176.0"/><line x1="1128.6" y1="1155.0" x2="1128.6" y2="1166.0"/><line x1="1332.2" y1="1155.0" x2="1332.2" y2="1176.0"/><line x1="1535.9" y1="1155.0" x2="1535.9" y2="1166.0"/><line x1="1739.5" y1="1155.0" x2="1739.5" y2="1176.0"/>
</g>
<text class="sans" font-size="64.2" text-anchor="end" transform="translate(278.48,1172.30) scale(0.965,1)">0.0</text><text class="sans" font-size="64.2" text-anchor="end" transform="translate(278.48,970.28) scale(0.965,1)">0.2</text><text class="sans" font-size="64.2" text-anchor="end" transform="translate(278.48,768.26) scale(0.965,1)">0.4</text><text class="sans" font-size="64.2" text-anchor="end" transform="translate(278.48,566.24) scale(0.965,1)">0.6</text><text class="sans" font-size="64.2" text-anchor="end" transform="translate(278.48,364.22) scale(0.965,1)">0.8</text><text class="sans" font-size="64.2" text-anchor="end" transform="translate(278.48,162.20) scale(0.965,1)">1.0</text><text class="sans" font-size="64.2" text-anchor="middle" transform="translate(517.34,1240.4) scale(0.965,1)">500</text><text class="sans" font-size="64.2" text-anchor="middle" transform="translate(924.63,1240.4) scale(0.965,1)">600</text><text class="sans" font-size="64.2" text-anchor="middle" transform="translate(1331.91,1240.4) scale(0.965,1)">700</text><text class="sans" font-size="64.2" text-anchor="middle" transform="translate(1739.20,1240.4) scale(0.965,1)">800</text>
<text class="sans" font-size="83.91" transform="translate(695.40,1364.80) scale(0.9806,1)">Wavelength [nm]</text>
<text class="sans" font-size="85.65" transform="translate(106.3,1193.15) rotate(-90) scale(0.9590,1)">Normalized EL Intensity [a.u.]</text>
<rect x="317.5" y="92.8" width="427.5" height="199.4" fill="#fff" stroke="#000" stroke-width="1.6"/>
<g stroke-width="4.7" stroke-linecap="round">
<line x1="322.9" y1="123.5" x2="435.4" y2="123.5" stroke="#000"/>
<line x1="322.9" y1="185.6" x2="435.4" y2="185.6" stroke="#ff0000"/>
<line x1="322.9" y1="248.5" x2="435.4" y2="248.5" stroke="#0000ff"/>
</g>
<text class="sans" font-size="50.14" transform="translate(447.62,140.9) scale(0.9832,1)">ZnStq<tspan dy="2" stroke="#000" stroke-width="2">_</tspan><tspan dy="-2">H</tspan></text><text class="sans" font-size="50.14" transform="translate(447.62,203.2) scale(0.9832,1)">ZnStq<tspan dy="2" stroke="#000" stroke-width="2">_</tspan><tspan dy="-2">Cl</tspan></text><text class="sans" font-size="50.14" transform="translate(447.62,266.7) scale(0.9832,1)">ZnStq<tspan dy="2" stroke="#000" stroke-width="2">_</tspan><tspan dy="-2">OCH</tspan></text><text class="sans" font-size="28.73" transform="translate(726.66,285.51) scale(0.9467,1)">3</text>
<text class="serif" font-size="55.61" transform="translate(1369.25,172.14) scale(0.9397,1)">LIGHT</text><text class="serif" font-size="51.71" transform="translate(1272.06,336.88) scale(1.0202,1)">Glass substrate</text><text class="serif" font-size="52.54" transform="translate(1373.30,411.85) scale(1.0152,1)">ITO</text><text class="serif" font-size="54.48" transform="translate(1255.35,486.21) scale(0.9664,1)">PEDOT:PSS</text><text class="serif" font-size="54.77" transform="translate(1241.26,564.50) scale(0.9653,1)">ZnStq<tspan dy="3">_</tspan><tspan dy="-3">R:PVK</tspan></text><text class="serif" font-size="51.01" transform="translate(1366.58,646.20) scale(1.0124,1)">Al</text><text class="serif" font-size="54.09" transform="translate(1627.65,598.16) scale(0.9679,1)">U</text>
<g fill="none" stroke="#000" stroke-width="4.5" stroke-linejoin="miter">
<path d="M1342.5,188 L1313.5,229.5 L1328,229.5 L1328,272 L1357.5,272 L1357.5,229.5 L1372.5,229.5 Z"/>
<path d="M1446.8,186 L1418.5,230.5 L1432,230.5 L1432,273.5 L1460.5,273.5 L1460.5,230.5 L1475,230.5 Z"/>
<path d="M1552,190 L1524.5,231.8 L1538,231.8 L1538,273 L1566,273 L1566,231.8 L1580,231.8 Z"/>
<ellipse cx="1647" cy="542.2" rx="11" ry="7.5"/>
<ellipse cx="1647.4" cy="626.4" rx="12.8" ry="7"/>
</g>
<g fill="none" stroke="#000" stroke-width="5.1" stroke-linejoin="miter">
<path d="M1202.2,285.3 L1683.4,285.3 L1683.4,431.5 L1601,431.5 L1601,665.8 L1202.2,665.8 Z"/>
<path d="M1202.2,357 L1683.4,357 M1202.2,431.5 L1601,431.5 M1202.2,508.5 L1601,508.5 M1202.2,587.3 L1601,587.3"/>
<path d="M1647.7,455 L1647.7,533 M1646.2,635 L1646.2,738.5 L1520,738.5 L1520,689"/>
</g>
<rect x="1631.5" y="433.8" width="34.6" height="21.9" fill="#000"/>
<rect x="1488.6" y="668" width="53.6" height="21.8" fill="#000"/>
<rect x="1294.1" y="832.5" width="1.3" height="7.5" fill="#9a9a9a"/>
</svg>
</body></html>
